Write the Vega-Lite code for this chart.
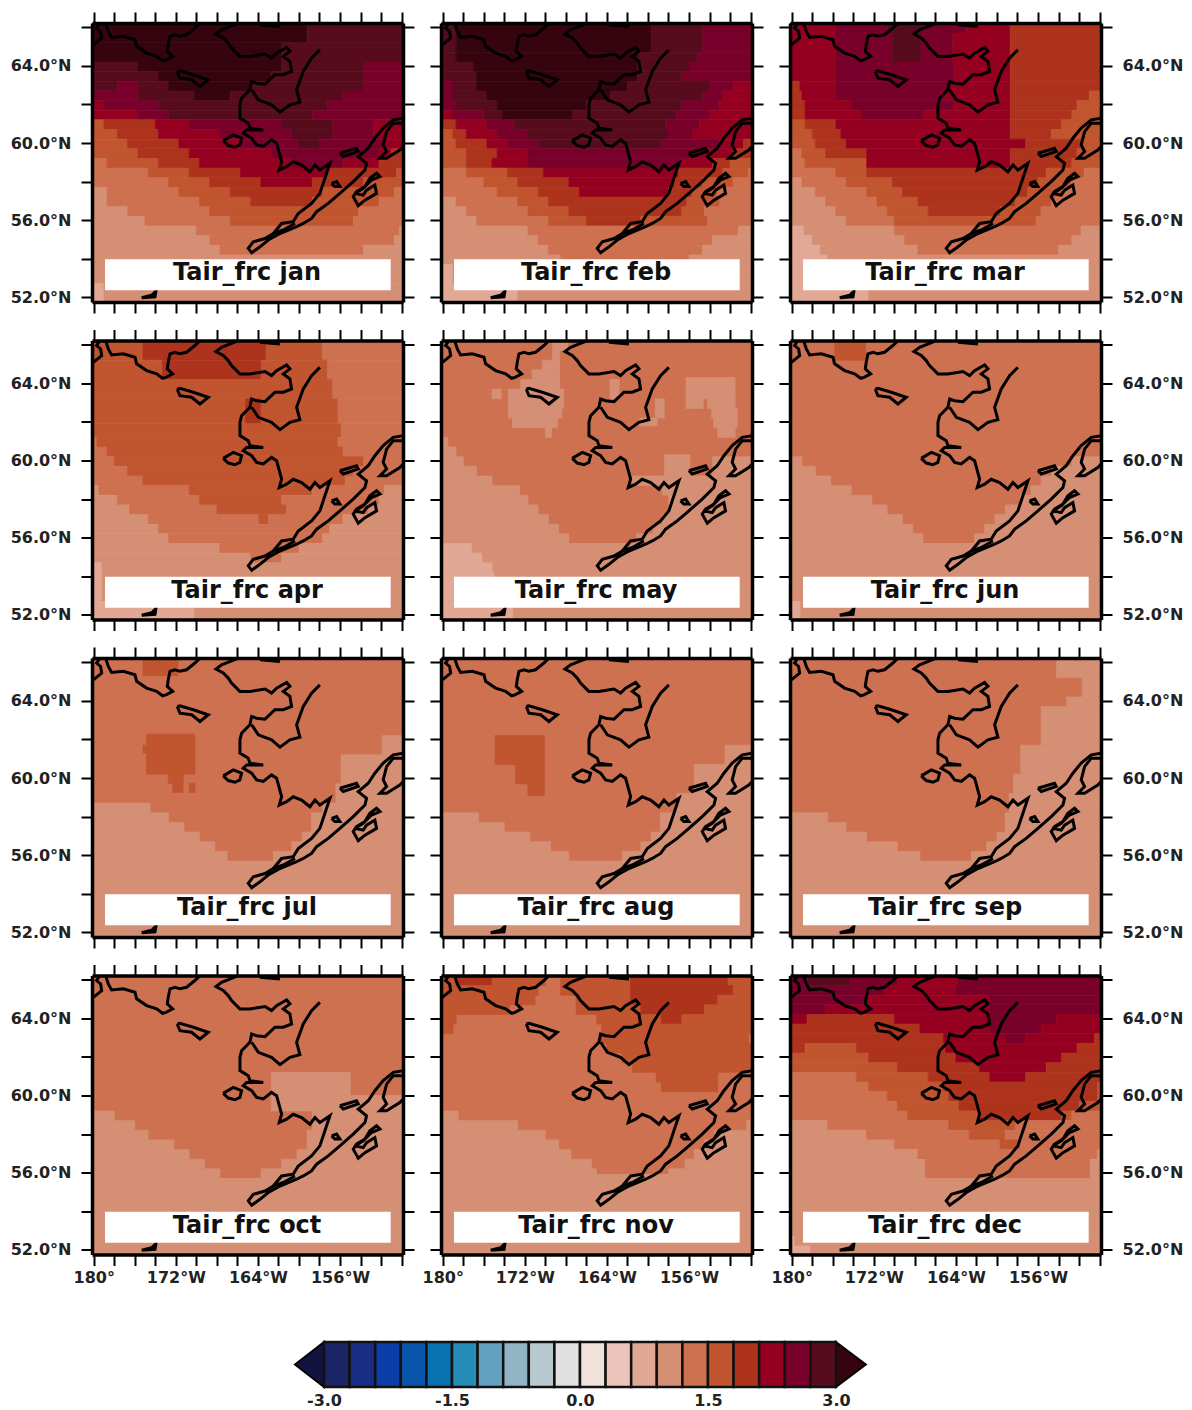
{"$schema":"https://vega.github.io/schema/vega-lite/v6.json","background":"white","padding":{"left":10,"top":11,"right":5,"bottom":0},"bounds":"flush","spacing":1319,
"config":{"range":{"category":["#13133f","#1b2565","#1a2e85","#0a3ea6","#0955ab","#0871b0","#258cb8","#64a0bf","#93b4c4","#b9c9d1","#e0e0e0","#f0e1db","#ecc5ba","#e2a896","#d58f74","#cd7150","#c0552f","#ad331d","#950020","#78002a","#570c1e","#36040f"]},"view":{"stroke":null},"axis":{"grid":false,"domainColor":"#000","domainWidth":3.5,"tickColor":"#000","tickWidth":2,"tickSize":11,"labelFont":"DejaVu Sans","labelFontWeight":"bold","labelFontSize":16,"labelColor":"#222","labelOverlap":false,"labelFlush":false},"axisX":{"tickCount":15,"labelPadding":4,"labelExpr":"datum.value%8==-4?(datum.value==-180?'180°':(-datum.value)+'°W'):''"},"axisY":{"tickCount":7,"labelPadding":10,"labelExpr":"datum.value%4==0?format(datum.value,'.1f')+'°N':''"}},
"datasets":{
"box":[{"x":-178.9,"x2":-151.06,"y":53.98,"y2":52.37}],
"bar":[{"x":-3,"x2":-2.7,"y":0,"y2":1,"v":-2.85},{"x":-2.7,"x2":-2.4,"y":0,"y2":1,"v":-2.55},{"x":-2.4,"x2":-2.1,"y":0,"y2":1,"v":-2.25},{"x":-2.1,"x2":-1.8,"y":0,"y2":1,"v":-1.95},{"x":-1.8,"x2":-1.5,"y":0,"y2":1,"v":-1.65},{"x":-1.5,"x2":-1.2,"y":0,"y2":1,"v":-1.35},{"x":-1.2,"x2":-0.9,"y":0,"y2":1,"v":-1.05},{"x":-0.9,"x2":-0.6,"y":0,"y2":1,"v":-0.75},{"x":-0.6,"x2":-0.3,"y":0,"y2":1,"v":-0.45},{"x":-0.3,"x2":0,"y":0,"y2":1,"v":-0.15},{"x":0,"x2":0.3,"y":0,"y2":1,"v":0.15},{"x":0.3,"x2":0.6,"y":0,"y2":1,"v":0.45},{"x":0.6,"x2":0.9,"y":0,"y2":1,"v":0.75},{"x":0.9,"x2":1.2,"y":0,"y2":1,"v":1.05},{"x":1.2,"x2":1.5,"y":0,"y2":1,"v":1.35},{"x":1.5,"x2":1.8,"y":0,"y2":1,"v":1.65},{"x":1.8,"x2":2.1,"y":0,"y2":1,"v":1.95},{"x":2.1,"x2":2.4,"y":0,"y2":1,"v":2.25},{"x":2.4,"x2":2.7,"y":0,"y2":1,"v":2.55},{"x":2.7,"x2":3,"y":0,"y2":1,"v":2.85}],
"tri":[{"x":-3.34,"y":0.5,"y2":0.5,"v":-3.2},{"x":-3,"y":1,"y2":0,"v":-3.2},{"x":3,"y":1,"y2":0,"v":3.2},{"x":3.35,"y":0.5,"y2":0.5,"v":3.2}],
"coast":[
{"s":"a","o":1,"x":-180.04,"y":65.09},{"s":"a","o":2,"x":-179.23,"y":65.44},{"s":"a","o":3,"x":-179.33,"y":65.78},{"s":"a","o":4,"x":-179.72,"y":65.96},{"s":"a","o":5,"x":-179.46,"y":66.17},
{"s":"b","o":1,"x":-178.81,"y":66.17},{"s":"b","o":2,"x":-178.58,"y":65.78},{"s":"b","o":3,"x":-178.26,"y":65.47},{"s":"b","o":4,"x":-177.12,"y":65.53},{"s":"b","o":5,"x":-175.98,"y":65.35},{"s":"b","o":6,"x":-175.82,"y":65.01},{"s":"b","o":7,"x":-174.85,"y":64.66},{"s":"b","o":8,"x":-173.87,"y":64.49},{"s":"b","o":9,"x":-173.29,"y":64.26},{"s":"b","o":10,"x":-172.96,"y":64.31},{"s":"b","o":11,"x":-172.31,"y":64.49},{"s":"b","o":12,"x":-172.83,"y":64.75},{"s":"b","o":13,"x":-172.74,"y":65.09},{"s":"b","o":14,"x":-172.57,"y":65.53},{"s":"b","o":15,"x":-172.09,"y":65.61},{"s":"b","o":16,"x":-171.6,"y":65.53},{"s":"b","o":17,"x":-170.95,"y":65.61},{"s":"b","o":18,"x":-170.14,"y":65.96},{"s":"b","o":19,"x":-169.72,"y":66.17},
{"s":"c","o":1,"x":-166.08,"y":66.17},{"s":"c","o":2,"x":-167.54,"y":65.87},{"s":"c","o":3,"x":-168.09,"y":65.65},{"s":"c","o":4,"x":-167.38,"y":65.44},{"s":"c","o":5,"x":-166.89,"y":65.18},{"s":"c","o":6,"x":-166.57,"y":64.92},{"s":"c","o":7,"x":-165.76,"y":64.49},{"s":"c","o":8,"x":-164.78,"y":64.49},{"s":"c","o":9,"x":-163.31,"y":64.61},{"s":"c","o":10,"x":-162.67,"y":64.4},{"s":"c","o":11,"x":-162.18,"y":64.66},{"s":"c","o":12,"x":-161.2,"y":64.95},{"s":"c","o":13,"x":-160.88,"y":64.75},{"s":"c","o":14,"x":-161.53,"y":64.49},{"s":"c","o":15,"x":-160.88,"y":64.23},{"s":"c","o":16,"x":-160.72,"y":63.71},{"s":"c","o":17,"x":-161.53,"y":63.54},{"s":"c","o":18,"x":-162.34,"y":63.54},{"s":"c","o":19,"x":-163.31,"y":63.05},{"s":"c","o":20,"x":-164.13,"y":63.1},{"s":"c","o":21,"x":-164.61,"y":63.19},{"s":"c","o":22,"x":-164.78,"y":62.76},{"s":"c","o":23,"x":-165.59,"y":62.32},{"s":"c","o":24,"x":-165.75,"y":61.98},{"s":"c","o":25,"x":-165.75,"y":61.29},{"s":"c","o":26,"x":-164.94,"y":61.03},{"s":"c","o":27,"x":-164.78,"y":60.77},{"s":"c","o":28,"x":-163.48,"y":60.68},{"s":"c","o":29,"x":-164.29,"y":60.68},{"s":"c","o":30,"x":-165.1,"y":60.68},{"s":"c","o":31,"x":-165.43,"y":60.51},{"s":"c","o":32,"x":-164.61,"y":60.25},{"s":"c","o":33,"x":-164.13,"y":59.9},{"s":"c","o":34,"x":-163.48,"y":59.82},{"s":"c","o":35,"x":-162.67,"y":60.16},{"s":"c","o":36,"x":-162.18,"y":59.99},{"s":"c","o":37,"x":-161.69,"y":59.04},{"s":"c","o":38,"x":-161.92,"y":58.6},{"s":"c","o":39,"x":-161.2,"y":58.77},{"s":"c","o":40,"x":-160.56,"y":59.03},{"s":"c","o":41,"x":-159.74,"y":58.86},{"s":"c","o":42,"x":-158.93,"y":58.51},{"s":"c","o":43,"x":-158.44,"y":58.86},{"s":"c","o":44,"x":-157.96,"y":58.6},{"s":"c","o":45,"x":-156.98,"y":58.95},{"s":"c","o":46,"x":-157.47,"y":58.17},{"s":"c","o":47,"x":-157.96,"y":57.39},{"s":"c","o":48,"x":-158.77,"y":56.87},{"s":"c","o":49,"x":-160.07,"y":56.35},{"s":"c","o":50,"x":-160.56,"y":55.92},{"s":"c","o":51,"x":-161.69,"y":55.83},{"s":"c","o":52,"x":-162.5,"y":55.31},{"s":"c","o":53,"x":-163.31,"y":55.05},{"s":"c","o":54,"x":-164.45,"y":54.88},{"s":"c","o":55,"x":-164.94,"y":54.54},{"s":"c","o":56,"x":-164.61,"y":54.31},{"s":"c","o":57,"x":-163.8,"y":54.62},{"s":"c","o":58,"x":-162.99,"y":54.97},{"s":"c","o":59,"x":-161.85,"y":55.31},{"s":"c","o":60,"x":-160.23,"y":55.66},{"s":"c","o":61,"x":-159.58,"y":55.83},{"s":"c","o":62,"x":-158.77,"y":56.09},{"s":"c","o":63,"x":-158.28,"y":56.44},{"s":"c","o":64,"x":-157.15,"y":56.87},{"s":"c","o":65,"x":-156.01,"y":57.39},{"s":"c","o":66,"x":-154.71,"y":58.0},{"s":"c","o":67,"x":-153.57,"y":58.6},{"s":"c","o":68,"x":-153.41,"y":58.95},{"s":"c","o":69,"x":-154.22,"y":59.29},{"s":"c","o":70,"x":-153.25,"y":59.73},{"s":"c","o":71,"x":-152.6,"y":60.25},{"s":"c","o":72,"x":-151.79,"y":60.77},{"s":"c","o":73,"x":-150.81,"y":61.2},{"s":"c","o":74,"x":-149.84,"y":61.29},
{"s":"d","o":1,"x":-149.84,"y":61.03},{"s":"d","o":2,"x":-150.81,"y":61.03},{"s":"d","o":3,"x":-151.46,"y":60.59},{"s":"d","o":4,"x":-151.79,"y":59.9},{"s":"d","o":5,"x":-151.46,"y":59.56},{"s":"d","o":6,"x":-152.11,"y":59.21},{"s":"d","o":7,"x":-151.46,"y":59.21},{"s":"d","o":8,"x":-150.17,"y":59.64},{"s":"d","o":9,"x":-149.84,"y":59.82},
{"s":"e","o":1,"x":-164.61,"y":62.76},{"s":"e","o":2,"x":-163.96,"y":62.24},{"s":"e","o":3,"x":-162.67,"y":61.98},{"s":"e","o":4,"x":-161.85,"y":61.6},{"s":"e","o":5,"x":-160.88,"y":61.98},{"s":"e","o":6,"x":-159.91,"y":62.12},{"s":"e","o":7,"x":-160.23,"y":62.76},{"s":"e","o":8,"x":-159.58,"y":63.71},{"s":"e","o":9,"x":-158.77,"y":64.4},{"s":"e","o":10,"x":-157.96,"y":64.83},
{"s":"f","o":1,"x":-163.8,"y":66.13},{"s":"f","o":2,"x":-161.85,"y":66.04},
{"s":"g","o":1,"x":-156.01,"y":59.47},{"s":"g","o":2,"x":-154.39,"y":59.73},{"s":"g","o":3,"x":-154.22,"y":59.56},{"s":"g","o":4,"x":-155.68,"y":59.3},{"s":"g","o":5,"x":-156.01,"y":59.47},
{"s":"h","o":1,"x":-156.82,"y":57.91},{"s":"h","o":2,"x":-156.33,"y":58.0},{"s":"h","o":3,"x":-156.01,"y":57.74},{"s":"h","o":4,"x":-156.5,"y":57.74},{"s":"h","o":5,"x":-156.82,"y":57.91},
{"s":"i","o":1,"x":-154.55,"y":57.39},{"s":"i","o":2,"x":-153.74,"y":57.65},{"s":"i","o":3,"x":-152.93,"y":58.08},{"s":"i","o":4,"x":-152.11,"y":58.26},{"s":"i","o":5,"x":-152.44,"y":58.43},{"s":"i","o":6,"x":-153.09,"y":58.17},{"s":"i","o":7,"x":-153.57,"y":57.74},{"s":"i","o":8,"x":-154.39,"y":57.48},{"s":"i","o":9,"x":-154.71,"y":57.22},{"s":"i","o":10,"x":-154.22,"y":56.75},{"s":"i","o":11,"x":-153.57,"y":57.04},{"s":"i","o":12,"x":-152.44,"y":57.39},{"s":"i","o":13,"x":-152.6,"y":57.82},{"s":"i","o":14,"x":-153.41,"y":57.56},{"s":"i","o":15,"x":-153.74,"y":57.3},{"s":"i","o":16,"x":-154.55,"y":57.39},
{"s":"j","o":1,"x":-167.38,"y":60.11},{"s":"j","o":2,"x":-166.4,"y":60.42},{"s":"j","o":3,"x":-165.59,"y":60.25},{"s":"j","o":4,"x":-165.76,"y":59.9},{"s":"j","o":5,"x":-166.24,"y":59.78},{"s":"j","o":6,"x":-166.89,"y":59.87},{"s":"j","o":7,"x":-167.38,"y":60.11},
{"s":"k","o":1,"x":-171.86,"y":63.71},{"s":"k","o":2,"x":-171.6,"y":63.74},{"s":"k","o":3,"x":-170.3,"y":63.54},{"s":"k","o":4,"x":-168.84,"y":63.28},{"s":"k","o":5,"x":-169.65,"y":62.93},{"s":"k","o":6,"x":-170.46,"y":63.28},{"s":"k","o":7,"x":-171.6,"y":63.36},{"s":"k","o":8,"x":-171.86,"y":63.71},
{"s":"l","o":1,"x":-175.33,"y":51.98},{"s":"l","o":2,"x":-174.36,"y":52.11},{"s":"l","o":3,"x":-173.94,"y":52.32},{"s":"l","o":4,"x":-174.03,"y":52.03},{"s":"l","o":5,"x":-175.33,"y":51.98},
{"s":"m","o":1,"x":-162.5,"y":55.31},{"s":"m","o":2,"x":-161.53,"y":55.49},{"s":"m","o":3,"x":-160.39,"y":55.83}],
"jan":[
{"x":-180.2,"x2":-159.2,"y":66.2,"y2":65.2,"v":3.1},{"x":-159.2,"x2":-149.8,"y":66.2,"y2":65.2,"v":2.8},
{"x":-180.2,"x2":-161.7,"y":65.2,"y2":64.2,"v":3.1},{"x":-161.7,"x2":-149.8,"y":65.2,"y2":64.2,"v":2.8},
{"x":-180.2,"x2":-175.7,"y":64.2,"y2":63.7,"v":2.8},{"x":-175.7,"x2":-161.7,"y":64.2,"y2":63.7,"v":3.1},{"x":-161.7,"x2":-153.7,"y":64.2,"y2":63.7,"v":2.8},{"x":-153.7,"x2":-149.8,"y":64.2,"y2":63.7,"v":2.5},
{"x":-180.2,"x2":-173.7,"y":63.7,"y2":63.2,"v":2.8},{"x":-173.7,"x2":-162.7,"y":63.7,"y2":63.2,"v":3.1},{"x":-162.7,"x2":-153.7,"y":63.7,"y2":63.2,"v":2.8},{"x":-153.7,"x2":-149.8,"y":63.7,"y2":63.2,"v":2.5},
{"x":-180.2,"x2":-177.7,"y":63.2,"y2":62.7,"v":2.8},{"x":-177.7,"x2":-175.7,"y":63.2,"y2":62.7,"v":2.5},{"x":-175.7,"x2":-172.7,"y":63.2,"y2":62.7,"v":2.8},{"x":-172.7,"x2":-164.7,"y":63.2,"y2":62.7,"v":3.1},{"x":-164.7,"x2":-153.7,"y":63.2,"y2":62.7,"v":2.8},{"x":-153.7,"x2":-149.8,"y":63.2,"y2":62.7,"v":2.5},
{"x":-180.2,"x2":-175.7,"y":62.7,"y2":62.2,"v":2.5},{"x":-175.7,"x2":-170.2,"y":62.7,"y2":62.2,"v":2.8},{"x":-170.2,"x2":-166.7,"y":62.7,"y2":62.2,"v":3.1},{"x":-166.7,"x2":-155.7,"y":62.7,"y2":62.2,"v":2.8},{"x":-155.7,"x2":-149.8,"y":62.7,"y2":62.2,"v":2.5},
{"x":-180.2,"x2":-179,"y":62.2,"y2":61.7,"v":2.2},{"x":-179,"x2":-173.7,"y":62.2,"y2":61.7,"v":2.5},{"x":-173.7,"x2":-157.2,"y":62.2,"y2":61.7,"v":2.8},{"x":-157.2,"x2":-149.8,"y":62.2,"y2":61.7,"v":2.5},
{"x":-180.2,"x2":-175.7,"y":61.7,"y2":61.2,"v":2.2},{"x":-175.7,"x2":-172.7,"y":61.7,"y2":61.2,"v":2.5},{"x":-172.7,"x2":-158.7,"y":61.7,"y2":61.2,"v":2.8},{"x":-158.7,"x2":-149.8,"y":61.7,"y2":61.2,"v":2.5},
{"x":-180.2,"x2":-179,"y":61.2,"y2":60.7,"v":1.6},{"x":-179,"x2":-174,"y":61.2,"y2":60.7,"v":1.9},{"x":-174,"x2":-170.7,"y":61.2,"y2":60.7,"v":2.2},{"x":-170.7,"x2":-161.7,"y":61.2,"y2":60.7,"v":2.5},{"x":-161.7,"x2":-156.7,"y":61.2,"y2":60.7,"v":2.8},{"x":-156.7,"x2":-152.7,"y":61.2,"y2":60.7,"v":2.5},{"x":-152.7,"x2":-149.8,"y":61.2,"y2":60.7,"v":2.2},
{"x":-180.2,"x2":-177.7,"y":60.7,"y2":60.2,"v":1.6},{"x":-177.7,"x2":-173.7,"y":60.7,"y2":60.2,"v":1.9},{"x":-173.7,"x2":-167.7,"y":60.7,"y2":60.2,"v":2.2},{"x":-167.7,"x2":-160.7,"y":60.7,"y2":60.2,"v":2.5},{"x":-160.7,"x2":-156.7,"y":60.7,"y2":60.2,"v":2.8},{"x":-156.7,"x2":-152.7,"y":60.7,"y2":60.2,"v":2.5},{"x":-152.7,"x2":-149.8,"y":60.7,"y2":60.2,"v":2.2},
{"x":-180.2,"x2":-176.7,"y":60.2,"y2":59.7,"v":1.6},{"x":-176.7,"x2":-171.7,"y":60.2,"y2":59.7,"v":1.9},{"x":-171.7,"x2":-165.7,"y":60.2,"y2":59.7,"v":2.2},{"x":-165.7,"x2":-160,"y":60.2,"y2":59.7,"v":2.5},{"x":-160,"x2":-158,"y":60.2,"y2":59.7,"v":2.8},{"x":-158,"x2":-151.7,"y":60.2,"y2":59.7,"v":2.5},{"x":-151.7,"x2":-149.8,"y":60.2,"y2":59.7,"v":2.2},
{"x":-180.2,"x2":-175.7,"y":59.7,"y2":59.2,"v":1.6},{"x":-175.7,"x2":-170.7,"y":59.7,"y2":59.2,"v":1.9},{"x":-170.7,"x2":-162.7,"y":59.7,"y2":59.2,"v":2.2},{"x":-162.7,"x2":-152.2,"y":59.7,"y2":59.2,"v":2.5},{"x":-152.2,"x2":-151,"y":59.7,"y2":59.2,"v":2.2},{"x":-151,"x2":-149.8,"y":59.7,"y2":59.2,"v":1.9},
{"x":-180.2,"x2":-178.7,"y":59.2,"y2":58.7,"v":1.3},{"x":-178.7,"x2":-173.7,"y":59.2,"y2":58.7,"v":1.6},{"x":-173.7,"x2":-169.7,"y":59.2,"y2":58.7,"v":1.9},{"x":-169.7,"x2":-160.7,"y":59.2,"y2":58.7,"v":2.2},{"x":-160.7,"x2":-155.7,"y":59.2,"y2":58.7,"v":2.5},{"x":-155.7,"x2":-152.2,"y":59.2,"y2":58.7,"v":2.2},{"x":-152.2,"x2":-149.8,"y":59.2,"y2":58.7,"v":1.9},
{"x":-180.2,"x2":-174.7,"y":58.7,"y2":58.2,"v":1.3},{"x":-174.7,"x2":-170.7,"y":58.7,"y2":58.2,"v":1.6},{"x":-170.7,"x2":-165.7,"y":58.7,"y2":58.2,"v":1.9},{"x":-165.7,"x2":-157.2,"y":58.7,"y2":58.2,"v":2.2},{"x":-157.2,"x2":-150.5,"y":58.7,"y2":58.2,"v":1.9},{"x":-150.5,"x2":-149.8,"y":58.7,"y2":58.2,"v":1.6},
{"x":-180.2,"x2":-172.7,"y":58.2,"y2":57.7,"v":1.3},{"x":-172.7,"x2":-168.7,"y":58.2,"y2":57.7,"v":1.6},{"x":-168.7,"x2":-163.7,"y":58.2,"y2":57.7,"v":1.9},{"x":-163.7,"x2":-158.7,"y":58.2,"y2":57.7,"v":2.2},{"x":-158.7,"x2":-153.7,"y":58.2,"y2":57.7,"v":1.9},{"x":-153.7,"x2":-149.8,"y":58.2,"y2":57.7,"v":1.6},
{"x":-180.2,"x2":-178.7,"y":57.7,"y2":57.2,"v":1},{"x":-178.7,"x2":-171.7,"y":57.7,"y2":57.2,"v":1.3},{"x":-171.7,"x2":-166.7,"y":57.7,"y2":57.2,"v":1.6},{"x":-166.7,"x2":-157.7,"y":57.7,"y2":57.2,"v":1.9},{"x":-157.7,"x2":-150.7,"y":57.7,"y2":57.2,"v":1.6},{"x":-150.7,"x2":-149.8,"y":57.7,"y2":57.2,"v":1.3},
{"x":-180.2,"x2":-178.7,"y":57.2,"y2":56.7,"v":1},{"x":-178.7,"x2":-169.7,"y":57.2,"y2":56.7,"v":1.3},{"x":-169.7,"x2":-164.7,"y":57.2,"y2":56.7,"v":1.6},{"x":-164.7,"x2":-158.7,"y":57.2,"y2":56.7,"v":1.9},{"x":-158.7,"x2":-152.2,"y":57.2,"y2":56.7,"v":1.6},{"x":-152.2,"x2":-149.8,"y":57.2,"y2":56.7,"v":1.3},
{"x":-180.2,"x2":-176.7,"y":56.7,"y2":56.2,"v":1},{"x":-176.7,"x2":-168.7,"y":56.7,"y2":56.2,"v":1.3},{"x":-168.7,"x2":-154.2,"y":56.7,"y2":56.2,"v":1.6},{"x":-154.2,"x2":-149.8,"y":56.7,"y2":56.2,"v":1.3},
{"x":-180.2,"x2":-175,"y":56.2,"y2":55.7,"v":1},{"x":-175,"x2":-166.7,"y":56.2,"y2":55.7,"v":1.3},{"x":-166.7,"x2":-154.7,"y":56.2,"y2":55.7,"v":1.6},{"x":-154.7,"x2":-149.8,"y":56.2,"y2":55.7,"v":1.3},
{"x":-180.2,"x2":-170,"y":55.7,"y2":55.2,"v":1},{"x":-170,"x2":-150.2,"y":55.7,"y2":55.2,"v":1.3},{"x":-150.2,"x2":-149.8,"y":55.7,"y2":55.2,"v":1},
{"x":-180.2,"x2":-168.7,"y":55.2,"y2":54.7,"v":1},{"x":-168.7,"x2":-150.7,"y":55.2,"y2":54.7,"v":1.3},{"x":-150.7,"x2":-149.8,"y":55.2,"y2":54.7,"v":1},
{"x":-180.2,"x2":-167.7,"y":54.7,"y2":54.2,"v":1},{"x":-167.7,"x2":-153.7,"y":54.7,"y2":54.2,"v":1.3},{"x":-153.7,"x2":-149.8,"y":54.7,"y2":54.2,"v":1},
{"x":-180.2,"x2":-149.8,"y":54.2,"y2":52.7,"v":1},
{"x":-180.2,"x2":-179,"y":52.7,"y2":51.7,"v":0.7},{"x":-179,"x2":-149.8,"y":52.7,"y2":51.7,"v":1}],
"feb":[
{"x":-180.2,"x2":-178.7,"y":66.2,"y2":64.7,"v":2.8},{"x":-178.7,"x2":-159.7,"y":66.2,"y2":64.7,"v":3.1},{"x":-159.7,"x2":-154.7,"y":66.2,"y2":64.7,"v":2.8},{"x":-154.7,"x2":-149.8,"y":66.2,"y2":64.7,"v":2.5},
{"x":-180.2,"x2":-178.7,"y":64.7,"y2":64.2,"v":2.8},{"x":-178.7,"x2":-160.9,"y":64.7,"y2":64.2,"v":3.1},{"x":-160.9,"x2":-155.2,"y":64.7,"y2":64.2,"v":2.8},{"x":-155.2,"x2":-149.8,"y":64.7,"y2":64.2,"v":2.5},
{"x":-180.2,"x2":-177,"y":64.2,"y2":63.7,"v":2.8},{"x":-177,"x2":-161,"y":64.2,"y2":63.7,"v":3.1},{"x":-161,"x2":-156,"y":64.2,"y2":63.7,"v":2.8},{"x":-156,"x2":-149.8,"y":64.2,"y2":63.7,"v":2.5},
{"x":-180.2,"x2":-176.7,"y":63.7,"y2":63.2,"v":2.8},{"x":-176.7,"x2":-161,"y":63.7,"y2":63.2,"v":3.1},{"x":-161,"x2":-156.7,"y":63.7,"y2":63.2,"v":2.8},{"x":-156.7,"x2":-149.8,"y":63.7,"y2":63.2,"v":2.5},
{"x":-180.2,"x2":-179,"y":63.2,"y2":62.7,"v":2.5},{"x":-179,"x2":-176.7,"y":63.2,"y2":62.7,"v":2.8},{"x":-176.7,"x2":-162,"y":63.2,"y2":62.7,"v":3.1},{"x":-162,"x2":-154,"y":63.2,"y2":62.7,"v":2.8},{"x":-154,"x2":-151.7,"y":63.2,"y2":62.7,"v":2.5},{"x":-151.7,"x2":-149.8,"y":63.2,"y2":62.7,"v":2.2},
{"x":-180.2,"x2":-179,"y":62.7,"y2":62.2,"v":2.5},{"x":-179,"x2":-175.7,"y":62.7,"y2":62.2,"v":2.8},{"x":-175.7,"x2":-163.7,"y":62.7,"y2":62.2,"v":3.1},{"x":-163.7,"x2":-154.7,"y":62.7,"y2":62.2,"v":2.8},{"x":-154.7,"x2":-152.7,"y":62.7,"y2":62.2,"v":2.5},{"x":-152.7,"x2":-149.8,"y":62.7,"y2":62.2,"v":2.2},
{"x":-180.2,"x2":-178.7,"y":62.2,"y2":61.7,"v":2.5},{"x":-178.7,"x2":-174.7,"y":62.2,"y2":61.7,"v":2.8},{"x":-174.7,"x2":-166,"y":62.2,"y2":61.7,"v":3.1},{"x":-166,"x2":-156.7,"y":62.2,"y2":61.7,"v":2.8},{"x":-156.7,"x2":-153,"y":62.2,"y2":61.7,"v":2.5},{"x":-153,"x2":-149.8,"y":62.2,"y2":61.7,"v":2.2},
{"x":-180.2,"x2":-179,"y":61.7,"y2":61.2,"v":2.2},{"x":-179,"x2":-176,"y":61.7,"y2":61.2,"v":2.5},{"x":-176,"x2":-174.2,"y":61.7,"y2":61.2,"v":2.8},{"x":-174.2,"x2":-167.4,"y":61.7,"y2":61.2,"v":3.1},{"x":-167.4,"x2":-157.2,"y":61.7,"y2":61.2,"v":2.8},{"x":-157.2,"x2":-154,"y":61.7,"y2":61.2,"v":2.5},{"x":-154,"x2":-149.8,"y":61.7,"y2":61.2,"v":2.2},
{"x":-180.2,"x2":-178.7,"y":61.2,"y2":60.7,"v":1.9},{"x":-178.7,"x2":-175.7,"y":61.2,"y2":60.7,"v":2.2},{"x":-175.7,"x2":-173,"y":61.2,"y2":60.7,"v":2.5},{"x":-173,"x2":-158.3,"y":61.2,"y2":60.7,"v":2.8},{"x":-158.3,"x2":-155,"y":61.2,"y2":60.7,"v":2.5},{"x":-155,"x2":-149.8,"y":61.2,"y2":60.7,"v":2.2},
{"x":-180.2,"x2":-179,"y":60.7,"y2":60.2,"v":1.6},{"x":-179,"x2":-177.7,"y":60.7,"y2":60.2,"v":1.9},{"x":-177.7,"x2":-174.7,"y":60.7,"y2":60.2,"v":2.2},{"x":-174.7,"x2":-171.7,"y":60.7,"y2":60.2,"v":2.5},{"x":-171.7,"x2":-158,"y":60.7,"y2":60.2,"v":2.8},{"x":-158,"x2":-155.7,"y":60.7,"y2":60.2,"v":2.5},{"x":-155.7,"x2":-149.8,"y":60.7,"y2":60.2,"v":2.2},
{"x":-180.2,"x2":-178.7,"y":60.2,"y2":59.7,"v":1.6},{"x":-178.7,"x2":-175.7,"y":60.2,"y2":59.7,"v":1.9},{"x":-175.7,"x2":-173.7,"y":60.2,"y2":59.7,"v":2.2},{"x":-173.7,"x2":-170.7,"y":60.2,"y2":59.7,"v":2.5},{"x":-170.7,"x2":-158.7,"y":60.2,"y2":59.7,"v":2.8},{"x":-158.7,"x2":-153,"y":60.2,"y2":59.7,"v":2.5},{"x":-153,"x2":-150.7,"y":60.2,"y2":59.7,"v":2.2},{"x":-150.7,"x2":-149.8,"y":60.2,"y2":59.7,"v":1.9},
{"x":-180.2,"x2":-177.7,"y":59.7,"y2":59.2,"v":1.6},{"x":-177.7,"x2":-174.7,"y":59.7,"y2":59.2,"v":1.9},{"x":-174.7,"x2":-171.7,"y":59.7,"y2":59.2,"v":2.2},{"x":-171.7,"x2":-155,"y":59.7,"y2":59.2,"v":2.5},{"x":-155,"x2":-151.7,"y":59.7,"y2":59.2,"v":2.2},{"x":-151.7,"x2":-149.8,"y":59.7,"y2":59.2,"v":1.9},
{"x":-180.2,"x2":-177.7,"y":59.2,"y2":58.7,"v":1.6},{"x":-177.7,"x2":-175.2,"y":59.2,"y2":58.7,"v":1.9},{"x":-175.2,"x2":-171.7,"y":59.2,"y2":58.7,"v":2.2},{"x":-171.7,"x2":-156.7,"y":59.2,"y2":58.7,"v":2.5},{"x":-156.7,"x2":-153.7,"y":59.2,"y2":58.7,"v":2.2},{"x":-153.7,"x2":-152,"y":59.2,"y2":58.7,"v":1.9},{"x":-152,"x2":-149.8,"y":59.2,"y2":58.7,"v":1.6},
{"x":-180.2,"x2":-177.7,"y":58.7,"y2":58.2,"v":1.3},{"x":-177.7,"x2":-173.7,"y":58.7,"y2":58.2,"v":1.6},{"x":-173.7,"x2":-170.2,"y":58.7,"y2":58.2,"v":1.9},{"x":-170.2,"x2":-157,"y":58.7,"y2":58.2,"v":2.2},{"x":-157,"x2":-152.7,"y":58.7,"y2":58.2,"v":1.9},{"x":-152.7,"x2":-150.2,"y":58.7,"y2":58.2,"v":1.6},{"x":-150.2,"x2":-149.8,"y":58.7,"y2":58.2,"v":1.3},
{"x":-180.2,"x2":-176,"y":58.2,"y2":57.7,"v":1.3},{"x":-176,"x2":-172.7,"y":58.2,"y2":57.7,"v":1.6},{"x":-172.7,"x2":-167.7,"y":58.2,"y2":57.7,"v":1.9},{"x":-167.7,"x2":-157.4,"y":58.2,"y2":57.7,"v":2.2},{"x":-157.4,"x2":-154.7,"y":58.2,"y2":57.7,"v":1.9},{"x":-154.7,"x2":-151.7,"y":58.2,"y2":57.7,"v":1.6},{"x":-151.7,"x2":-149.8,"y":58.2,"y2":57.7,"v":1.3},
{"x":-180.2,"x2":-174.7,"y":57.7,"y2":57.2,"v":1.3},{"x":-174.7,"x2":-170.7,"y":57.7,"y2":57.2,"v":1.6},{"x":-170.7,"x2":-166.7,"y":57.7,"y2":57.2,"v":1.9},{"x":-166.7,"x2":-158,"y":57.7,"y2":57.2,"v":2.2},{"x":-158,"x2":-155.7,"y":57.7,"y2":57.2,"v":1.9},{"x":-155.7,"x2":-153.2,"y":57.7,"y2":57.2,"v":1.6},{"x":-153.2,"x2":-149.8,"y":57.7,"y2":57.2,"v":1.3},
{"x":-180.2,"x2":-178.7,"y":57.2,"y2":56.7,"v":1},{"x":-178.7,"x2":-172.7,"y":57.2,"y2":56.7,"v":1.3},{"x":-172.7,"x2":-169.7,"y":57.2,"y2":56.7,"v":1.6},{"x":-169.7,"x2":-156.2,"y":57.2,"y2":56.7,"v":1.9},{"x":-156.2,"x2":-153,"y":57.2,"y2":56.7,"v":1.6},{"x":-153,"x2":-149.8,"y":57.2,"y2":56.7,"v":1.3},
{"x":-180.2,"x2":-177.7,"y":56.7,"y2":56.2,"v":1},{"x":-177.7,"x2":-171.7,"y":56.7,"y2":56.2,"v":1.3},{"x":-171.7,"x2":-167.7,"y":56.7,"y2":56.2,"v":1.6},{"x":-167.7,"x2":-156.7,"y":56.7,"y2":56.2,"v":1.9},{"x":-156.7,"x2":-154.5,"y":56.7,"y2":56.2,"v":1.6},{"x":-154.5,"x2":-149.8,"y":56.7,"y2":56.2,"v":1.3},
{"x":-180.2,"x2":-176.7,"y":56.2,"y2":55.7,"v":1},{"x":-176.7,"x2":-169.7,"y":56.2,"y2":55.7,"v":1.3},{"x":-169.7,"x2":-166,"y":56.2,"y2":55.7,"v":1.6},{"x":-166,"x2":-160.7,"y":56.2,"y2":55.7,"v":1.9},{"x":-160.7,"x2":-154.2,"y":56.2,"y2":55.7,"v":1.6},{"x":-154.2,"x2":-149.8,"y":56.2,"y2":55.7,"v":1.3},
{"x":-180.2,"x2":-171.7,"y":55.7,"y2":55.2,"v":1},{"x":-171.7,"x2":-151.2,"y":55.7,"y2":55.2,"v":1.3},{"x":-151.2,"x2":-149.8,"y":55.7,"y2":55.2,"v":1},
{"x":-180.2,"x2":-170.7,"y":55.2,"y2":54.7,"v":1},{"x":-170.7,"x2":-153.7,"y":55.2,"y2":54.7,"v":1.3},{"x":-153.7,"x2":-149.8,"y":55.2,"y2":54.7,"v":1},
{"x":-180.2,"x2":-169.7,"y":54.7,"y2":54.2,"v":1},{"x":-169.7,"x2":-154.7,"y":54.7,"y2":54.2,"v":1.3},{"x":-154.7,"x2":-149.8,"y":54.7,"y2":54.2,"v":1},
{"x":-180.2,"x2":-168.5,"y":54.2,"y2":53.7,"v":1},{"x":-168.5,"x2":-156,"y":54.2,"y2":53.7,"v":1.3},{"x":-156,"x2":-149.8,"y":54.2,"y2":53.7,"v":1},
{"x":-180.2,"x2":-179,"y":53.7,"y2":52.7,"v":0.7},{"x":-179,"x2":-149.8,"y":53.7,"y2":52.7,"v":1},
{"x":-180.2,"x2":-172.7,"y":52.7,"y2":51.7,"v":0.7},{"x":-172.7,"x2":-149.8,"y":52.7,"y2":51.7,"v":1}],
"mar":[
{"x":-180.2,"x2":-175.7,"y":66.2,"y2":65.7,"v":2.2},{"x":-175.7,"x2":-170.7,"y":66.2,"y2":65.7,"v":2.5},{"x":-170.7,"x2":-167.4,"y":66.2,"y2":65.7,"v":2.8},{"x":-167.4,"x2":-163,"y":66.2,"y2":65.7,"v":2.5},{"x":-163,"x2":-158.7,"y":66.2,"y2":65.7,"v":2.2},{"x":-158.7,"x2":-149.8,"y":66.2,"y2":65.7,"v":1.9},
{"x":-180.2,"x2":-175.7,"y":65.7,"y2":64.2,"v":2.2},{"x":-175.7,"x2":-170.2,"y":65.7,"y2":64.2,"v":2.5},{"x":-170.2,"x2":-167.4,"y":65.7,"y2":64.2,"v":2.8},{"x":-167.4,"x2":-164.3,"y":65.7,"y2":64.2,"v":2.5},{"x":-164.3,"x2":-158.7,"y":65.7,"y2":64.2,"v":2.2},{"x":-158.7,"x2":-149.8,"y":65.7,"y2":64.2,"v":1.9},
{"x":-180.2,"x2":-175.7,"y":64.2,"y2":63.2,"v":2.2},{"x":-175.7,"x2":-164.2,"y":64.2,"y2":63.2,"v":2.5},{"x":-164.2,"x2":-158.7,"y":64.2,"y2":63.2,"v":2.2},{"x":-158.7,"x2":-149.8,"y":64.2,"y2":63.2,"v":1.9},
{"x":-180.2,"x2":-179.2,"y":63.2,"y2":62.7,"v":1.9},{"x":-179.2,"x2":-175.7,"y":63.2,"y2":62.7,"v":2.2},{"x":-175.7,"x2":-164.7,"y":63.2,"y2":62.7,"v":2.5},{"x":-164.7,"x2":-158.7,"y":63.2,"y2":62.7,"v":2.2},{"x":-158.7,"x2":-149.8,"y":63.2,"y2":62.7,"v":1.9},
{"x":-180.2,"x2":-179,"y":62.7,"y2":62.2,"v":1.9},{"x":-179,"x2":-175.7,"y":62.7,"y2":62.2,"v":2.2},{"x":-175.7,"x2":-165.5,"y":62.7,"y2":62.2,"v":2.5},{"x":-165.5,"x2":-158.7,"y":62.7,"y2":62.2,"v":2.2},{"x":-158.7,"x2":-151,"y":62.7,"y2":62.2,"v":1.9},{"x":-151,"x2":-149.8,"y":62.7,"y2":62.2,"v":1.6},
{"x":-180.2,"x2":-178.7,"y":62.2,"y2":61.7,"v":1.9},{"x":-178.7,"x2":-174.2,"y":62.2,"y2":61.7,"v":2.2},{"x":-174.2,"x2":-164.2,"y":62.2,"y2":61.7,"v":2.5},{"x":-164.2,"x2":-158.7,"y":62.2,"y2":61.7,"v":2.2},{"x":-158.7,"x2":-152.2,"y":62.2,"y2":61.7,"v":1.9},{"x":-152.2,"x2":-149.8,"y":62.2,"y2":61.7,"v":1.6},
{"x":-180.2,"x2":-178.7,"y":61.7,"y2":61.2,"v":1.9},{"x":-178.7,"x2":-173.2,"y":61.7,"y2":61.2,"v":2.2},{"x":-173.2,"x2":-167.2,"y":61.7,"y2":61.2,"v":2.5},{"x":-167.2,"x2":-158.7,"y":61.7,"y2":61.2,"v":2.2},{"x":-158.7,"x2":-152.7,"y":61.7,"y2":61.2,"v":1.9},{"x":-152.7,"x2":-149.8,"y":61.7,"y2":61.2,"v":1.6},
{"x":-180.2,"x2":-178.7,"y":61.2,"y2":60.7,"v":1.6},{"x":-178.7,"x2":-175.7,"y":61.2,"y2":60.7,"v":1.9},{"x":-175.7,"x2":-158.7,"y":61.2,"y2":60.7,"v":2.2},{"x":-158.7,"x2":-153.7,"y":61.2,"y2":60.7,"v":1.9},{"x":-153.7,"x2":-149.8,"y":61.2,"y2":60.7,"v":1.6},
{"x":-180.2,"x2":-178,"y":60.7,"y2":60.2,"v":1.6},{"x":-178,"x2":-175.2,"y":60.7,"y2":60.2,"v":1.9},{"x":-175.2,"x2":-158.7,"y":60.7,"y2":60.2,"v":2.2},{"x":-158.7,"x2":-154.7,"y":60.7,"y2":60.2,"v":1.9},{"x":-154.7,"x2":-149.8,"y":60.7,"y2":60.2,"v":1.6},
{"x":-180.2,"x2":-177.7,"y":60.2,"y2":59.7,"v":1.6},{"x":-177.7,"x2":-174.7,"y":60.2,"y2":59.7,"v":1.9},{"x":-174.7,"x2":-157.2,"y":60.2,"y2":59.7,"v":2.2},{"x":-157.2,"x2":-151.7,"y":60.2,"y2":59.7,"v":1.9},{"x":-151.7,"x2":-149.8,"y":60.2,"y2":59.7,"v":1.6},
{"x":-180.2,"x2":-179,"y":59.7,"y2":59.2,"v":1.3},{"x":-179,"x2":-176.7,"y":59.7,"y2":59.2,"v":1.6},{"x":-176.7,"x2":-172.7,"y":59.7,"y2":59.2,"v":1.9},{"x":-172.7,"x2":-158.7,"y":59.7,"y2":59.2,"v":2.2},{"x":-158.7,"x2":-152.2,"y":59.7,"y2":59.2,"v":1.9},{"x":-152.2,"x2":-149.8,"y":59.7,"y2":59.2,"v":1.6},
{"x":-180.2,"x2":-178.7,"y":59.2,"y2":58.7,"v":1.3},{"x":-178.7,"x2":-172.7,"y":59.2,"y2":58.7,"v":1.6},{"x":-172.7,"x2":-158.7,"y":59.2,"y2":58.7,"v":2.2},{"x":-158.7,"x2":-152.7,"y":59.2,"y2":58.7,"v":1.9},{"x":-152.7,"x2":-149.8,"y":59.2,"y2":58.7,"v":1.6},
{"x":-180.2,"x2":-175.7,"y":58.7,"y2":58.2,"v":1.3},{"x":-175.7,"x2":-172.7,"y":58.7,"y2":58.2,"v":1.6},{"x":-172.7,"x2":-155.2,"y":58.7,"y2":58.2,"v":1.9},{"x":-155.2,"x2":-151.5,"y":58.7,"y2":58.2,"v":1.6},{"x":-151.5,"x2":-149.8,"y":58.7,"y2":58.2,"v":1.3},
{"x":-180.2,"x2":-179,"y":58.2,"y2":57.7,"v":1},{"x":-179,"x2":-174.7,"y":58.2,"y2":57.7,"v":1.3},{"x":-174.7,"x2":-170.2,"y":58.2,"y2":57.7,"v":1.6},{"x":-170.2,"x2":-156,"y":58.2,"y2":57.7,"v":1.9},{"x":-156,"x2":-152.7,"y":58.2,"y2":57.7,"v":1.6},{"x":-152.7,"x2":-149.8,"y":58.2,"y2":57.7,"v":1.3},
{"x":-180.2,"x2":-177.7,"y":57.7,"y2":57.2,"v":1},{"x":-177.7,"x2":-172.7,"y":57.7,"y2":57.2,"v":1.3},{"x":-172.7,"x2":-169.2,"y":57.7,"y2":57.2,"v":1.6},{"x":-169.2,"x2":-157,"y":57.7,"y2":57.2,"v":1.9},{"x":-157,"x2":-153.7,"y":57.7,"y2":57.2,"v":1.6},{"x":-153.7,"x2":-149.8,"y":57.7,"y2":57.2,"v":1.3},
{"x":-180.2,"x2":-176.7,"y":57.2,"y2":56.7,"v":1},{"x":-176.7,"x2":-171.7,"y":57.2,"y2":56.7,"v":1.3},{"x":-171.7,"x2":-167.7,"y":57.2,"y2":56.7,"v":1.6},{"x":-167.7,"x2":-158.2,"y":57.2,"y2":56.7,"v":1.9},{"x":-158.2,"x2":-154.7,"y":57.2,"y2":56.7,"v":1.6},{"x":-154.7,"x2":-149.8,"y":57.2,"y2":56.7,"v":1.3},
{"x":-180.2,"x2":-175.7,"y":56.7,"y2":56.2,"v":1},{"x":-175.7,"x2":-170.7,"y":56.7,"y2":56.2,"v":1.3},{"x":-170.7,"x2":-166.7,"y":56.7,"y2":56.2,"v":1.6},{"x":-166.7,"x2":-159.7,"y":56.7,"y2":56.2,"v":1.9},{"x":-159.7,"x2":-155.7,"y":56.7,"y2":56.2,"v":1.6},{"x":-155.7,"x2":-149.8,"y":56.7,"y2":56.2,"v":1.3},
{"x":-180.2,"x2":-174.7,"y":56.2,"y2":55.7,"v":1},{"x":-174.7,"x2":-170,"y":56.2,"y2":55.7,"v":1.3},{"x":-170,"x2":-156.2,"y":56.2,"y2":55.7,"v":1.6},{"x":-156.2,"x2":-149.8,"y":56.2,"y2":55.7,"v":1.3},
{"x":-180.2,"x2":-178.8,"y":55.7,"y2":55.2,"v":0.7},{"x":-178.8,"x2":-170,"y":55.7,"y2":55.2,"v":1},{"x":-170,"x2":-151.8,"y":55.7,"y2":55.2,"v":1.3},{"x":-151.8,"x2":-149.8,"y":55.7,"y2":55.2,"v":1},
{"x":-180.2,"x2":-178,"y":55.2,"y2":54.7,"v":0.7},{"x":-178,"x2":-169,"y":55.2,"y2":54.7,"v":1},{"x":-169,"x2":-152.7,"y":55.2,"y2":54.7,"v":1.3},{"x":-152.7,"x2":-149.8,"y":55.2,"y2":54.7,"v":1},
{"x":-180.2,"x2":-177.2,"y":54.7,"y2":54.2,"v":0.7},{"x":-177.2,"x2":-167.7,"y":54.7,"y2":54.2,"v":1},{"x":-167.7,"x2":-154,"y":54.7,"y2":54.2,"v":1.3},{"x":-154,"x2":-149.8,"y":54.7,"y2":54.2,"v":1},
{"x":-180.2,"x2":-176.5,"y":54.2,"y2":52.7,"v":0.7},{"x":-176.5,"x2":-149.8,"y":54.2,"y2":52.7,"v":1},
{"x":-180.2,"x2":-172.5,"y":52.7,"y2":51.7,"v":0.7},{"x":-172.5,"x2":-149.8,"y":52.7,"y2":51.7,"v":1}],
"apr":[
{"x":-180.2,"x2":-175.2,"y":66.2,"y2":65.2,"v":1.6},{"x":-175.2,"x2":-163.2,"y":66.2,"y2":65.2,"v":1.9},{"x":-163.2,"x2":-157.7,"y":66.2,"y2":65.2,"v":1.6},{"x":-157.7,"x2":-149.8,"y":66.2,"y2":65.2,"v":1.3},
{"x":-180.2,"x2":-173.3,"y":65.2,"y2":64.2,"v":1.6},{"x":-173.3,"x2":-163.7,"y":65.2,"y2":64.2,"v":1.9},{"x":-163.7,"x2":-157.2,"y":65.2,"y2":64.2,"v":1.6},{"x":-157.2,"x2":-149.8,"y":65.2,"y2":64.2,"v":1.3},
{"x":-180.2,"x2":-156.7,"y":64.2,"y2":63.2,"v":1.6},{"x":-156.7,"x2":-149.8,"y":64.2,"y2":63.2,"v":1.3},
{"x":-180.2,"x2":-165.2,"y":63.2,"y2":61.9,"v":1.6},{"x":-165.2,"x2":-163.7,"y":63.2,"y2":61.9,"v":1.9},{"x":-163.7,"x2":-156.2,"y":63.2,"y2":61.9,"v":1.6},{"x":-156.2,"x2":-149.8,"y":63.2,"y2":61.9,"v":1.3},
{"x":-180.2,"x2":-155.9,"y":61.9,"y2":61.2,"v":1.6},{"x":-155.9,"x2":-149.8,"y":61.9,"y2":61.2,"v":1.3},
{"x":-180.2,"x2":-179.7,"y":61.2,"y2":60.7,"v":1.3},{"x":-179.7,"x2":-156.2,"y":61.2,"y2":60.7,"v":1.6},{"x":-156.2,"x2":-149.8,"y":61.2,"y2":60.7,"v":1.3},
{"x":-180.2,"x2":-178.7,"y":60.7,"y2":60.2,"v":1.3},{"x":-178.7,"x2":-155.7,"y":60.7,"y2":60.2,"v":1.6},{"x":-155.7,"x2":-149.8,"y":60.7,"y2":60.2,"v":1.3},
{"x":-180.2,"x2":-178,"y":60.2,"y2":59.7,"v":1.3},{"x":-178,"x2":-153.7,"y":60.2,"y2":59.7,"v":1.6},{"x":-153.7,"x2":-149.8,"y":60.2,"y2":59.7,"v":1.3},
{"x":-180.2,"x2":-176.7,"y":59.7,"y2":59.2,"v":1.3},{"x":-176.7,"x2":-154.7,"y":59.7,"y2":59.2,"v":1.6},{"x":-154.7,"x2":-149.8,"y":59.7,"y2":59.2,"v":1.3},
{"x":-180.2,"x2":-180,"y":59.2,"y2":58.7,"v":1},{"x":-180,"x2":-175.2,"y":59.2,"y2":58.7,"v":1.3},{"x":-175.2,"x2":-155.5,"y":59.2,"y2":58.7,"v":1.6},{"x":-155.5,"x2":-149.8,"y":59.2,"y2":58.7,"v":1.3},
{"x":-180.2,"x2":-179.5,"y":58.7,"y2":58.2,"v":1},{"x":-179.5,"x2":-170.7,"y":58.7,"y2":58.2,"v":1.3},{"x":-170.7,"x2":-158.7,"y":58.7,"y2":58.2,"v":1.6},{"x":-158.7,"x2":-151.7,"y":58.7,"y2":58.2,"v":1.3},{"x":-151.7,"x2":-149.8,"y":58.7,"y2":58.2,"v":1},
{"x":-180.2,"x2":-177.7,"y":58.2,"y2":57.7,"v":1},{"x":-177.7,"x2":-169.7,"y":58.2,"y2":57.7,"v":1.3},{"x":-169.7,"x2":-161.7,"y":58.2,"y2":57.7,"v":1.6},{"x":-161.7,"x2":-152.2,"y":58.2,"y2":57.7,"v":1.3},{"x":-152.2,"x2":-149.8,"y":58.2,"y2":57.7,"v":1},
{"x":-180.2,"x2":-176.5,"y":57.7,"y2":57.2,"v":1},{"x":-176.5,"x2":-168,"y":57.7,"y2":57.2,"v":1.3},{"x":-168,"x2":-161.2,"y":57.7,"y2":57.2,"v":1.6},{"x":-161.2,"x2":-153.2,"y":57.7,"y2":57.2,"v":1.3},{"x":-153.2,"x2":-149.8,"y":57.7,"y2":57.2,"v":1},
{"x":-180.2,"x2":-174.7,"y":57.2,"y2":56.7,"v":1},{"x":-174.7,"x2":-163.9,"y":57.2,"y2":56.7,"v":1.3},{"x":-163.9,"x2":-163,"y":57.2,"y2":56.7,"v":1.6},{"x":-163,"x2":-155.7,"y":57.2,"y2":56.7,"v":1.3},{"x":-155.7,"x2":-149.8,"y":57.2,"y2":56.7,"v":1},
{"x":-180.2,"x2":-173.7,"y":56.7,"y2":56.2,"v":1},{"x":-173.7,"x2":-157,"y":56.7,"y2":56.2,"v":1.3},{"x":-157,"x2":-149.8,"y":56.7,"y2":56.2,"v":1},
{"x":-180.2,"x2":-172.7,"y":56.2,"y2":55.7,"v":1},{"x":-172.7,"x2":-157.7,"y":56.2,"y2":55.7,"v":1.3},{"x":-157.7,"x2":-149.8,"y":56.2,"y2":55.7,"v":1},
{"x":-180.2,"x2":-167.7,"y":55.7,"y2":55.2,"v":1},{"x":-167.7,"x2":-160,"y":55.7,"y2":55.2,"v":1.3},{"x":-160,"x2":-149.8,"y":55.7,"y2":55.2,"v":1},
{"x":-180.2,"x2":-164.7,"y":55.2,"y2":54.7,"v":1},{"x":-164.7,"x2":-161.7,"y":55.2,"y2":54.7,"v":1.3},{"x":-161.7,"x2":-149.8,"y":55.2,"y2":54.7,"v":1},
{"x":-180.2,"x2":-179.2,"y":54.7,"y2":52.7,"v":0.7},{"x":-179.2,"x2":-149.8,"y":54.7,"y2":52.7,"v":1},
{"x":-180.2,"x2":-170.2,"y":52.7,"y2":51.7,"v":0.7},{"x":-170.2,"x2":-149.8,"y":52.7,"y2":51.7,"v":1}],
"may":[
{"x":-180.2,"x2":-149.8,"y":66.2,"y2":55.7,"v":1.3},{"x":-180.2,"x2":-149.8,"y":55.7,"y2":51.7,"v":1},
{"x":-169.3,"x2":-167.8,"y":66.2,"y2":65.7,"v":1},{"x":-169.3,"x2":-168.6,"y":65.7,"y2":65.2,"v":1},{"x":-170.3,"x2":-168.6,"y":65.2,"y2":64.7,"v":1},{"x":-171.3,"x2":-168.6,"y":64.7,"y2":64.2,"v":1},{"x":-172.4,"x2":-168.6,"y":64.2,"y2":63.7,"v":1},{"x":-173.6,"x2":-168.2,"y":63.7,"y2":62.7,"v":1},{"x":-173.6,"x2":-168.4,"y":62.7,"y2":62.2,"v":1},{"x":-173.2,"x2":-168.8,"y":62.2,"y2":61.7,"v":1},{"x":-170,"x2":-169.4,"y":61.7,"y2":61.2,"v":1},{"x":-175.2,"x2":-174.3,"y":63.7,"y2":63.2,"v":1},
{"x":-163.7,"x2":-162.8,"y":64.2,"y2":63.2,"v":1},{"x":-159.3,"x2":-158.4,"y":63.2,"y2":62.2,"v":1},{"x":-160.8,"x2":-159.1,"y":62.2,"y2":61.8,"v":1},
{"x":-156.3,"x2":-151.5,"y":64.3,"y2":63.2,"v":1},{"x":-156.3,"x2":-154.6,"y":63.2,"y2":62.7,"v":1},{"x":-154.2,"x2":-151.5,"y":63.2,"y2":62.7,"v":1},{"x":-153.8,"x2":-151.3,"y":62.7,"y2":62.2,"v":1},{"x":-153.6,"x2":-151.3,"y":62.2,"y2":61.7,"v":1},{"x":-153.2,"x2":-151.5,"y":61.7,"y2":61.2,"v":1},
{"x":-158.4,"x2":-155.9,"y":60.3,"y2":59.2,"v":1},{"x":-161.5,"x2":-155.9,"y":59.2,"y2":58.7,"v":1},{"x":-153.7,"x2":-149.8,"y":60.2,"y2":59.2,"v":1},{"x":-158.6,"x2":-149.8,"y":58.7,"y2":58.2,"v":1},{"x":-155.9,"x2":-153.7,"y":59.2,"y2":58.7,"v":1},{"x":-153.7,"x2":-149.8,"y":59.2,"y2":58.7,"v":1},{"x":-158,"x2":-149.8,"y":58.2,"y2":57.2,"v":1},{"x":-158.6,"x2":-149.8,"y":57.2,"y2":56.7,"v":1},{"x":-159.5,"x2":-149.8,"y":56.7,"y2":56.2,"v":1},{"x":-161.1,"x2":-149.8,"y":56.2,"y2":55.7,"v":1},
{"x":-180.2,"x2":-179.5,"y":61.2,"y2":60.7,"v":1},{"x":-180.2,"x2":-178.7,"y":60.7,"y2":60.2,"v":1},{"x":-180.2,"x2":-178,"y":60.2,"y2":59.7,"v":1},{"x":-180.2,"x2":-176.7,"y":59.7,"y2":59.2,"v":1},{"x":-180.2,"x2":-175.2,"y":59.2,"y2":58.7,"v":1},{"x":-180.2,"x2":-172.5,"y":58.7,"y2":58.2,"v":1},{"x":-180.2,"x2":-171.7,"y":58.2,"y2":57.7,"v":1},{"x":-180.2,"x2":-170.7,"y":57.7,"y2":57.2,"v":1},{"x":-180.2,"x2":-169.7,"y":57.2,"y2":56.7,"v":1},{"x":-180.2,"x2":-168.7,"y":56.7,"y2":56.2,"v":1},{"x":-180.2,"x2":-167.7,"y":56.2,"y2":55.7,"v":1},
{"x":-180.2,"x2":-177.2,"y":55.7,"y2":55.2,"v":0.7},{"x":-180.2,"x2":-176.2,"y":55.2,"y2":54.7,"v":0.7},{"x":-180.2,"x2":-175.2,"y":54.7,"y2":54.2,"v":0.7},{"x":-180.2,"x2":-175,"y":54.2,"y2":52.7,"v":0.7},{"x":-180.2,"x2":-173.2,"y":52.7,"y2":51.7,"v":0.7}],
"jun":[
{"x":-180.2,"x2":-149.8,"y":66.2,"y2":55.7,"v":1.3},{"x":-180.2,"x2":-149.8,"y":55.7,"y2":51.7,"v":1},
{"x":-175.8,"x2":-172.8,"y":66.2,"y2":65.2,"v":1.6},
{"x":-180.2,"x2":-179,"y":60.2,"y2":59.7,"v":1},{"x":-180.2,"x2":-177.7,"y":59.7,"y2":59.2,"v":1},{"x":-180.2,"x2":-176.2,"y":59.2,"y2":58.7,"v":1},{"x":-180.2,"x2":-174.2,"y":58.7,"y2":58.2,"v":1},{"x":-180.2,"x2":-172.2,"y":58.2,"y2":57.7,"v":1},{"x":-180.2,"x2":-170.7,"y":57.7,"y2":57.2,"v":1},{"x":-180.2,"x2":-169.2,"y":57.2,"y2":56.7,"v":1},{"x":-180.2,"x2":-168.2,"y":56.7,"y2":56.2,"v":1},{"x":-180.2,"x2":-167.2,"y":56.2,"y2":55.7,"v":1},
{"x":-152.7,"x2":-149.8,"y":60.2,"y2":59.7,"v":1},{"x":-154.7,"x2":-149.8,"y":59.7,"y2":59.2,"v":1},{"x":-155.7,"x2":-149.8,"y":59.2,"y2":58.7,"v":1},{"x":-156.7,"x2":-149.8,"y":58.7,"y2":58.2,"v":1},{"x":-157.7,"x2":-149.8,"y":58.2,"y2":57.7,"v":1},{"x":-159.2,"x2":-149.8,"y":57.7,"y2":57.2,"v":1},{"x":-160.2,"x2":-149.8,"y":57.2,"y2":56.7,"v":1},{"x":-161.2,"x2":-149.8,"y":56.7,"y2":56.2,"v":1},{"x":-162.2,"x2":-149.8,"y":56.2,"y2":55.7,"v":1},
{"x":-180.2,"x2":-179.2,"y":52.7,"y2":51.7,"v":0.7}],
"jul":[
{"x":-180.2,"x2":-149.8,"y":66.2,"y2":55.7,"v":1.3},{"x":-180.2,"x2":-149.8,"y":55.7,"y2":51.7,"v":1},
{"x":-175.2,"x2":-171.8,"y":66.2,"y2":65.3,"v":1.6},{"x":-174.85,"x2":-170.14,"y":62.27,"y2":60.2,"v":1.6},{"x":-175.2,"x2":-174.85,"y":61.7,"y2":61.3,"v":1.6},{"x":-172.74,"x2":-171.28,"y":60.2,"y2":59.73,"v":1.6},{"x":-172.3,"x2":-171.3,"y":59.73,"y2":59.25,"v":1.6},{"x":-170.7,"x2":-170.14,"y":59.73,"y2":59.25,"v":1.6},
{"x":-180.2,"x2":-174.5,"y":58.7,"y2":58.2,"v":1},{"x":-180.2,"x2":-172.7,"y":58.2,"y2":57.7,"v":1},{"x":-180.2,"x2":-171.2,"y":57.7,"y2":57.2,"v":1},{"x":-180.2,"x2":-169.7,"y":57.2,"y2":56.7,"v":1},{"x":-180.2,"x2":-168.2,"y":56.7,"y2":56.2,"v":1},{"x":-180.2,"x2":-167,"y":56.2,"y2":55.7,"v":1},
{"x":-151.9,"x2":-149.8,"y":62.2,"y2":61.2,"v":1},{"x":-155.9,"x2":-149.8,"y":61.2,"y2":59.7,"v":1},{"x":-156.4,"x2":-149.8,"y":59.7,"y2":58.7,"v":1},{"x":-157.7,"x2":-149.8,"y":58.7,"y2":58.2,"v":1},{"x":-158.8,"x2":-149.8,"y":58.2,"y2":57.2,"v":1},{"x":-159.7,"x2":-149.8,"y":57.2,"y2":56.7,"v":1},{"x":-160.7,"x2":-149.8,"y":56.7,"y2":56.2,"v":1},{"x":-162.5,"x2":-149.8,"y":56.2,"y2":55.7,"v":1}],
"aug":[
{"x":-180.2,"x2":-149.8,"y":66.2,"y2":55.7,"v":1.3},{"x":-180.2,"x2":-149.8,"y":55.7,"y2":51.7,"v":1},
{"x":-174.9,"x2":-170.1,"y":62.2,"y2":60.7,"v":1.6},{"x":-172.9,"x2":-170.1,"y":60.7,"y2":59.7,"v":1.6},{"x":-171.7,"x2":-170.1,"y":59.7,"y2":59.1,"v":1.6},
{"x":-180.2,"x2":-176.5,"y":58.2,"y2":57.7,"v":1},{"x":-180.2,"x2":-174,"y":57.7,"y2":57.2,"v":1},{"x":-180.2,"x2":-171.5,"y":57.2,"y2":56.7,"v":1},{"x":-180.2,"x2":-169.5,"y":56.7,"y2":56.2,"v":1},{"x":-180.2,"x2":-167.7,"y":56.2,"y2":55.7,"v":1},
{"x":-152.5,"x2":-149.8,"y":61.7,"y2":60.7,"v":1},{"x":-155.5,"x2":-149.8,"y":60.7,"y2":59.2,"v":1},{"x":-157.2,"x2":-149.8,"y":59.2,"y2":58.2,"v":1},{"x":-158.8,"x2":-149.8,"y":58.2,"y2":57.2,"v":1},{"x":-159.7,"x2":-149.8,"y":57.2,"y2":56.7,"v":1},{"x":-160.7,"x2":-149.8,"y":56.7,"y2":56.2,"v":1},{"x":-162.5,"x2":-149.8,"y":56.2,"y2":55.7,"v":1}],
"sep":[
{"x":-180.2,"x2":-149.8,"y":66.2,"y2":55.7,"v":1.3},{"x":-180.2,"x2":-149.8,"y":55.7,"y2":51.7,"v":1},
{"x":-180.2,"x2":-176.5,"y":58.2,"y2":57.7,"v":1},{"x":-180.2,"x2":-174.7,"y":57.7,"y2":57.2,"v":1},{"x":-180.2,"x2":-172.7,"y":57.2,"y2":56.7,"v":1},{"x":-180.2,"x2":-169.7,"y":56.7,"y2":56.2,"v":1},{"x":-180.2,"x2":-167.5,"y":56.2,"y2":55.7,"v":1},
{"x":-154.2,"x2":-149.8,"y":66.2,"y2":65.2,"v":1},{"x":-151.7,"x2":-149.8,"y":65.2,"y2":64.2,"v":1},{"x":-153.2,"x2":-149.8,"y":64.2,"y2":63.7,"v":1},{"x":-155.7,"x2":-149.8,"y":63.7,"y2":61.7,"v":1},{"x":-157.7,"x2":-149.8,"y":61.7,"y2":60.2,"v":1},{"x":-158.4,"x2":-149.8,"y":60.2,"y2":59.2,"v":1},{"x":-158.8,"x2":-149.8,"y":59.2,"y2":58.2,"v":1},{"x":-159.2,"x2":-149.8,"y":58.2,"y2":57.2,"v":1},{"x":-160,"x2":-149.8,"y":57.2,"y2":56.7,"v":1},{"x":-161,"x2":-149.8,"y":56.7,"y2":56.2,"v":1},{"x":-162.5,"x2":-149.8,"y":56.2,"y2":55.7,"v":1}],
"oct":[
{"x":-180.2,"x2":-149.8,"y":66.2,"y2":55.7,"v":1.3},{"x":-180.2,"x2":-149.8,"y":55.7,"y2":51.7,"v":1},
{"x":-162.7,"x2":-155,"y":61.2,"y2":60,"v":1},{"x":-162.7,"x2":-149.8,"y":60,"y2":59.2,"v":1},{"x":-158.7,"x2":-149.8,"y":59.2,"y2":58.2,"v":1},{"x":-159.2,"x2":-149.8,"y":58.2,"y2":57.2,"v":1},{"x":-160.2,"x2":-149.8,"y":57.2,"y2":56.7,"v":1},{"x":-161.7,"x2":-149.8,"y":56.7,"y2":56.2,"v":1},{"x":-163.7,"x2":-149.8,"y":56.2,"y2":55.7,"v":1},
{"x":-180.2,"x2":-178,"y":59.2,"y2":58.7,"v":1},{"x":-180.2,"x2":-176,"y":58.7,"y2":58.2,"v":1},{"x":-180.2,"x2":-174.7,"y":58.2,"y2":57.7,"v":1},{"x":-180.2,"x2":-172.2,"y":57.7,"y2":57.2,"v":1},{"x":-180.2,"x2":-170.7,"y":57.2,"y2":56.7,"v":1},{"x":-180.2,"x2":-169.2,"y":56.7,"y2":56.2,"v":1},{"x":-180.2,"x2":-167.7,"y":56.2,"y2":55.7,"v":1}],
"nov":[
{"x":-180.2,"x2":-149.8,"y":66.2,"y2":55.9,"v":1.3},{"x":-180.2,"x2":-149.8,"y":55.9,"y2":51.7,"v":1},
{"x":-180.2,"x2":-178.5,"y":66.2,"y2":65.7,"v":1.6},{"x":-178.5,"x2":-175.2,"y":66.2,"y2":65.7,"v":1.9},{"x":-175.2,"x2":-170,"y":66.2,"y2":65.7,"v":1.6},{"x":-168.5,"x2":-161.7,"y":66.2,"y2":65.7,"v":1.6},{"x":-161.7,"x2":-152.2,"y":66.2,"y2":65.7,"v":1.9},{"x":-152.2,"x2":-149.8,"y":66.2,"y2":65.7,"v":1.6},
{"x":-180.2,"x2":-170.7,"y":65.7,"y2":65.2,"v":1.6},{"x":-168.5,"x2":-161.7,"y":65.7,"y2":65.2,"v":1.6},{"x":-161.7,"x2":-151.7,"y":65.7,"y2":65.2,"v":1.9},{"x":-151.7,"x2":-149.8,"y":65.7,"y2":65.2,"v":1.6},
{"x":-180.2,"x2":-171,"y":65.2,"y2":64.7,"v":1.6},{"x":-167,"x2":-161.7,"y":65.2,"y2":64.7,"v":1.6},{"x":-161.7,"x2":-153.2,"y":65.2,"y2":64.7,"v":1.9},{"x":-153.2,"x2":-149.8,"y":65.2,"y2":64.7,"v":1.6},
{"x":-180.2,"x2":-173.5,"y":64.7,"y2":64.2,"v":1.6},{"x":-167,"x2":-160.7,"y":64.7,"y2":64.2,"v":1.6},{"x":-160.7,"x2":-154.5,"y":64.7,"y2":64.2,"v":1.9},{"x":-154.5,"x2":-149.8,"y":64.7,"y2":64.2,"v":1.6},
{"x":-180.2,"x2":-178.7,"y":64.2,"y2":63.7,"v":1.6},{"x":-165,"x2":-158.7,"y":64.2,"y2":63.7,"v":1.6},{"x":-158.7,"x2":-156.7,"y":64.2,"y2":63.7,"v":1.9},{"x":-156.7,"x2":-149.8,"y":64.2,"y2":63.7,"v":1.6},
{"x":-180.2,"x2":-179,"y":63.7,"y2":63.2,"v":1.6},{"x":-164.5,"x2":-150,"y":63.7,"y2":63.2,"v":1.6},{"x":-164.7,"x2":-150.2,"y":63.2,"y2":62.7,"v":1.6},{"x":-164,"x2":-149.8,"y":62.7,"y2":62.2,"v":1.6},{"x":-162.5,"x2":-150,"y":62.2,"y2":61.7,"v":1.6},{"x":-161.5,"x2":-150,"y":61.7,"y2":61.2,"v":1.6},{"x":-159.2,"x2":-153.2,"y":61.2,"y2":60.7,"v":1.6},{"x":-158.7,"x2":-153.2,"y":60.7,"y2":60.2,"v":1.6},
{"x":-180.2,"x2":-178.5,"y":59.2,"y2":58.7,"v":1},{"x":-180.2,"x2":-172.7,"y":58.7,"y2":58.2,"v":1},{"x":-150.4,"x2":-149.8,"y":58.7,"y2":58.2,"v":1},{"x":-180.2,"x2":-170,"y":58.2,"y2":57.7,"v":1},{"x":-153.5,"x2":-149.8,"y":58.2,"y2":57.7,"v":1},{"x":-180.2,"x2":-168.7,"y":57.7,"y2":57.2,"v":1},{"x":-154.5,"x2":-149.8,"y":57.7,"y2":57.2,"v":1},{"x":-180.2,"x2":-167.5,"y":57.2,"y2":56.7,"v":1},{"x":-155.5,"x2":-149.8,"y":57.2,"y2":56.7,"v":1},{"x":-180.2,"x2":-165.5,"y":56.7,"y2":56.2,"v":1},{"x":-156.4,"x2":-149.8,"y":56.7,"y2":56.2,"v":1},{"x":-180.2,"x2":-165,"y":56.2,"y2":55.9,"v":1},{"x":-158,"x2":-149.8,"y":56.2,"y2":55.9,"v":1}],
"dec":[
{"x":-180.2,"x2":-178.5,"y":66.2,"y2":65.7,"v":2.5},{"x":-178.5,"x2":-174.3,"y":66.2,"y2":65.7,"v":2.8},{"x":-174.3,"x2":-169.7,"y":66.2,"y2":65.7,"v":2.5},{"x":-169.7,"x2":-163.7,"y":66.2,"y2":65.7,"v":2.2},{"x":-163.7,"x2":-149.8,"y":66.2,"y2":65.7,"v":2.5},
{"x":-180.2,"x2":-171,"y":65.7,"y2":65.2,"v":2.5},{"x":-171,"x2":-164,"y":65.7,"y2":65.2,"v":2.2},{"x":-164,"x2":-149.8,"y":65.7,"y2":65.2,"v":2.5},
{"x":-180.2,"x2":-172.7,"y":65.2,"y2":64.7,"v":2.5},{"x":-172.7,"x2":-160.7,"y":65.2,"y2":64.7,"v":2.2},{"x":-160.7,"x2":-149.8,"y":65.2,"y2":64.7,"v":2.5},
{"x":-180.2,"x2":-176.7,"y":64.7,"y2":64.2,"v":2.5},{"x":-176.7,"x2":-160.7,"y":64.7,"y2":64.2,"v":2.2},{"x":-160.7,"x2":-149.8,"y":64.7,"y2":64.2,"v":2.5},
{"x":-180.2,"x2":-178.5,"y":64.2,"y2":63.7,"v":2.2},{"x":-178.5,"x2":-170,"y":64.2,"y2":63.7,"v":1.9},{"x":-170,"x2":-160.7,"y":64.2,"y2":63.7,"v":2.2},{"x":-160.7,"x2":-154.2,"y":64.2,"y2":63.7,"v":2.5},{"x":-154.2,"x2":-149.8,"y":64.2,"y2":63.7,"v":2.2},
{"x":-180.2,"x2":-167.5,"y":63.7,"y2":63.2,"v":1.9},{"x":-167.5,"x2":-160.7,"y":63.7,"y2":63.2,"v":2.2},{"x":-160.7,"x2":-155.7,"y":63.7,"y2":63.2,"v":2.5},{"x":-155.7,"x2":-149.8,"y":63.7,"y2":63.2,"v":2.2},
{"x":-180.2,"x2":-165.2,"y":63.2,"y2":62.7,"v":1.9},{"x":-165.2,"x2":-159.2,"y":63.2,"y2":62.7,"v":2.2},{"x":-159.2,"x2":-157.2,"y":63.2,"y2":62.7,"v":2.5},{"x":-157.2,"x2":-150.5,"y":63.2,"y2":62.7,"v":2.2},{"x":-150.5,"x2":-149.8,"y":63.2,"y2":62.7,"v":1.9},
{"x":-180.2,"x2":-178.7,"y":62.7,"y2":62.2,"v":1.9},{"x":-178.7,"x2":-173.7,"y":62.7,"y2":62.2,"v":1.6},{"x":-173.7,"x2":-165,"y":62.7,"y2":62.2,"v":1.9},{"x":-165,"x2":-152.2,"y":62.7,"y2":62.2,"v":2.2},{"x":-152.2,"x2":-149.8,"y":62.7,"y2":62.2,"v":1.9},
{"x":-180.2,"x2":-172.5,"y":62.2,"y2":61.7,"v":1.6},{"x":-172.5,"x2":-164,"y":62.2,"y2":61.7,"v":1.9},{"x":-164,"x2":-153.7,"y":62.2,"y2":61.7,"v":2.2},{"x":-153.7,"x2":-149.8,"y":62.2,"y2":61.7,"v":1.9},
{"x":-180.2,"x2":-169.7,"y":61.7,"y2":61.2,"v":1.6},{"x":-169.7,"x2":-161.7,"y":61.7,"y2":61.2,"v":1.9},{"x":-161.7,"x2":-155.2,"y":61.7,"y2":61.2,"v":2.2},{"x":-155.2,"x2":-149.8,"y":61.7,"y2":61.2,"v":1.9},
{"x":-180.2,"x2":-173.7,"y":61.2,"y2":60.7,"v":1.3},{"x":-173.7,"x2":-166.7,"y":61.2,"y2":60.7,"v":1.6},{"x":-166.7,"x2":-160.7,"y":61.2,"y2":60.7,"v":1.9},{"x":-160.7,"x2":-157.2,"y":61.2,"y2":60.7,"v":2.2},{"x":-157.2,"x2":-149.8,"y":61.2,"y2":60.7,"v":1.9},
{"x":-180.2,"x2":-172.5,"y":60.7,"y2":60.2,"v":1.3},{"x":-172.5,"x2":-165.2,"y":60.7,"y2":60.2,"v":1.6},{"x":-165.2,"x2":-150.2,"y":60.7,"y2":60.2,"v":1.9},{"x":-150.2,"x2":-149.8,"y":60.7,"y2":60.2,"v":1.6},
{"x":-180.2,"x2":-170.7,"y":60.2,"y2":59.7,"v":1.3},{"x":-170.7,"x2":-164.7,"y":60.2,"y2":59.7,"v":1.6},{"x":-164.7,"x2":-150.2,"y":60.2,"y2":59.7,"v":1.9},{"x":-150.2,"x2":-149.8,"y":60.2,"y2":59.7,"v":1.6},
{"x":-180.2,"x2":-169.7,"y":59.7,"y2":59.2,"v":1.3},{"x":-169.7,"x2":-163.7,"y":59.7,"y2":59.2,"v":1.6},{"x":-163.7,"x2":-152,"y":59.7,"y2":59.2,"v":1.9},{"x":-152,"x2":-149.8,"y":59.7,"y2":59.2,"v":1.6},
{"x":-180.2,"x2":-168.7,"y":59.2,"y2":58.7,"v":1.3},{"x":-168.7,"x2":-161.7,"y":59.2,"y2":58.7,"v":1.6},{"x":-161.7,"x2":-153.7,"y":59.2,"y2":58.7,"v":1.9},{"x":-153.7,"x2":-152.7,"y":59.2,"y2":58.7,"v":1.6},{"x":-152.7,"x2":-149.8,"y":59.2,"y2":58.7,"v":1.3},
{"x":-180.2,"x2":-176.5,"y":58.7,"y2":58.2,"v":1},{"x":-176.5,"x2":-164.7,"y":58.7,"y2":58.2,"v":1.3},{"x":-164.7,"x2":-158.2,"y":58.7,"y2":58.2,"v":1.6},{"x":-158.2,"x2":-149.8,"y":58.7,"y2":58.2,"v":1.3},
{"x":-180.2,"x2":-172.7,"y":58.2,"y2":57.7,"v":1},{"x":-172.7,"x2":-162.7,"y":58.2,"y2":57.7,"v":1.3},{"x":-162.7,"x2":-159.2,"y":58.2,"y2":57.7,"v":1.6},{"x":-159.2,"x2":-149.8,"y":58.2,"y2":57.7,"v":1.3},
{"x":-180.2,"x2":-170,"y":57.7,"y2":57.2,"v":1},{"x":-170,"x2":-159.7,"y":57.7,"y2":57.2,"v":1.3},{"x":-159.7,"x2":-157.7,"y":57.7,"y2":57.2,"v":1.6},{"x":-157.7,"x2":-149.8,"y":57.7,"y2":57.2,"v":1.3},
{"x":-180.2,"x2":-167.7,"y":57.2,"y2":56.7,"v":1},{"x":-167.7,"x2":-150.2,"y":57.2,"y2":56.7,"v":1.3},{"x":-150.2,"x2":-149.8,"y":57.2,"y2":56.7,"v":1},
{"x":-180.2,"x2":-167,"y":56.7,"y2":55.7,"v":1},{"x":-167,"x2":-150.9,"y":56.7,"y2":55.7,"v":1.3},{"x":-150.9,"x2":-149.8,"y":56.7,"y2":55.7,"v":1},
{"x":-180.2,"x2":-149.8,"y":55.7,"y2":52.7,"v":1},
{"x":-180.2,"x2":-179.7,"y":52.7,"y2":52.2,"v":0.7},{"x":-179.7,"x2":-149.8,"y":52.7,"y2":52.2,"v":1},
{"x":-180.2,"x2":-178.2,"y":52.2,"y2":51.7,"v":0.7},{"x":-178.2,"x2":-149.8,"y":52.2,"y2":51.7,"v":1}]
},
"vconcat":[
{"columns":3,"bounds":"flush","spacing":{"row":38.5,"column":38},"concat":[
{"width":311,"height":279,"resolve":{"axis":{"x":"independent","y":"independent"}},"layer":[{"data":{"name":"jan"},"mark":{"type":"rect","clip":true,"strokeWidth":0.7},"encoding":{"x":{"field":"x","type":"quantitative","title":null,"scale":{"domain":[-180.17,-149.86],"nice":false},"axis":{"orient":"bottom","labels":false,"zindex":1}},"x2":{"field":"x2"},"y":{"field":"y","type":"quantitative","title":null,"scale":{"domain":[51.76,66.22],"nice":false},"axis":{"orient":"left","zindex":1}},"y2":{"field":"y2"},"color":{"field":"v","type":"quantitative","legend":null,"scale":{"type":"threshold","domain":[-3,-2.7,-2.4,-2.1,-1.8,-1.5,-1.2,-0.9,-0.6,-0.3,0,0.3,0.6,0.9,1.2,1.5,1.8,2.1,2.4,2.7,3],"range":"category"}},"stroke":{"field":"v","type":"quantitative","legend":null,"scale":{"type":"threshold","domain":[-3,-2.7,-2.4,-2.1,-1.8,-1.5,-1.2,-0.9,-0.6,-0.3,0,0.3,0.6,0.9,1.2,1.5,1.8,2.1,2.4,2.7,3],"range":"category"}}}},{"data":{"name":"coast"},"mark":{"type":"line","clip":true,"color":"#000","strokeWidth":3},"encoding":{"x":{"field":"x","type":"quantitative","axis":null,"scale":{"domain":[-180.17,-149.86],"nice":false}},"y":{"field":"y","type":"quantitative","axis":null,"scale":{"domain":[51.76,66.22],"nice":false}},"detail":{"field":"s"},"order":{"field":"o"}}},{"data":{"name":"box"},"mark":{"type":"rect","color":"#fff"},"encoding":{"x":{"field":"x","type":"quantitative","axis":null,"scale":{"domain":[-180.17,-149.86],"nice":false}},"x2":{"field":"x2"},"y":{"field":"y","type":"quantitative","axis":null,"scale":{"domain":[51.76,66.22],"nice":false}},"y2":{"field":"y2"}}},{"data":{"values":[{"x":-165.06,"y":53.25,"t":"Tair_frc jan"}]},"mark":{"type":"text","font":"DejaVu Sans","fontWeight":"bold","fontSize":24,"color":"#111"},"encoding":{"x":{"field":"x","type":"quantitative","title":null,"scale":{"domain":[-180.17,-149.86],"nice":false},"axis":{"orient":"top","labels":false,"zindex":1}},"y":{"field":"y","type":"quantitative","title":null,"scale":{"domain":[51.76,66.22],"nice":false},"axis":{"orient":"right","labels":false,"zindex":1}},"text":{"field":"t"}}}]},
{"width":311,"height":279,"resolve":{"axis":{"x":"independent","y":"independent"}},"layer":[{"data":{"name":"feb"},"mark":{"type":"rect","clip":true,"strokeWidth":0.7},"encoding":{"x":{"field":"x","type":"quantitative","title":null,"scale":{"domain":[-180.17,-149.86],"nice":false},"axis":{"orient":"bottom","labels":false,"zindex":1}},"x2":{"field":"x2"},"y":{"field":"y","type":"quantitative","title":null,"scale":{"domain":[51.76,66.22],"nice":false},"axis":{"orient":"left","labels":false,"zindex":1}},"y2":{"field":"y2"},"color":{"field":"v","type":"quantitative","legend":null,"scale":{"type":"threshold","domain":[-3,-2.7,-2.4,-2.1,-1.8,-1.5,-1.2,-0.9,-0.6,-0.3,0,0.3,0.6,0.9,1.2,1.5,1.8,2.1,2.4,2.7,3],"range":"category"}},"stroke":{"field":"v","type":"quantitative","legend":null,"scale":{"type":"threshold","domain":[-3,-2.7,-2.4,-2.1,-1.8,-1.5,-1.2,-0.9,-0.6,-0.3,0,0.3,0.6,0.9,1.2,1.5,1.8,2.1,2.4,2.7,3],"range":"category"}}}},{"data":{"name":"coast"},"mark":{"type":"line","clip":true,"color":"#000","strokeWidth":3},"encoding":{"x":{"field":"x","type":"quantitative","axis":null,"scale":{"domain":[-180.17,-149.86],"nice":false}},"y":{"field":"y","type":"quantitative","axis":null,"scale":{"domain":[51.76,66.22],"nice":false}},"detail":{"field":"s"},"order":{"field":"o"}}},{"data":{"name":"box"},"mark":{"type":"rect","color":"#fff"},"encoding":{"x":{"field":"x","type":"quantitative","axis":null,"scale":{"domain":[-180.17,-149.86],"nice":false}},"x2":{"field":"x2"},"y":{"field":"y","type":"quantitative","axis":null,"scale":{"domain":[51.76,66.22],"nice":false}},"y2":{"field":"y2"}}},{"data":{"values":[{"x":-165.06,"y":53.25,"t":"Tair_frc feb"}]},"mark":{"type":"text","font":"DejaVu Sans","fontWeight":"bold","fontSize":24,"color":"#111"},"encoding":{"x":{"field":"x","type":"quantitative","title":null,"scale":{"domain":[-180.17,-149.86],"nice":false},"axis":{"orient":"top","labels":false,"zindex":1}},"y":{"field":"y","type":"quantitative","title":null,"scale":{"domain":[51.76,66.22],"nice":false},"axis":{"orient":"right","labels":false,"zindex":1}},"text":{"field":"t"}}}]},
{"width":311,"height":279,"resolve":{"axis":{"x":"independent","y":"independent"}},"layer":[{"data":{"name":"mar"},"mark":{"type":"rect","clip":true,"strokeWidth":0.7},"encoding":{"x":{"field":"x","type":"quantitative","title":null,"scale":{"domain":[-180.17,-149.86],"nice":false},"axis":{"orient":"bottom","labels":false,"zindex":1}},"x2":{"field":"x2"},"y":{"field":"y","type":"quantitative","title":null,"scale":{"domain":[51.76,66.22],"nice":false},"axis":{"orient":"left","labels":false,"zindex":1}},"y2":{"field":"y2"},"color":{"field":"v","type":"quantitative","legend":null,"scale":{"type":"threshold","domain":[-3,-2.7,-2.4,-2.1,-1.8,-1.5,-1.2,-0.9,-0.6,-0.3,0,0.3,0.6,0.9,1.2,1.5,1.8,2.1,2.4,2.7,3],"range":"category"}},"stroke":{"field":"v","type":"quantitative","legend":null,"scale":{"type":"threshold","domain":[-3,-2.7,-2.4,-2.1,-1.8,-1.5,-1.2,-0.9,-0.6,-0.3,0,0.3,0.6,0.9,1.2,1.5,1.8,2.1,2.4,2.7,3],"range":"category"}}}},{"data":{"name":"coast"},"mark":{"type":"line","clip":true,"color":"#000","strokeWidth":3},"encoding":{"x":{"field":"x","type":"quantitative","axis":null,"scale":{"domain":[-180.17,-149.86],"nice":false}},"y":{"field":"y","type":"quantitative","axis":null,"scale":{"domain":[51.76,66.22],"nice":false}},"detail":{"field":"s"},"order":{"field":"o"}}},{"data":{"name":"box"},"mark":{"type":"rect","color":"#fff"},"encoding":{"x":{"field":"x","type":"quantitative","axis":null,"scale":{"domain":[-180.17,-149.86],"nice":false}},"x2":{"field":"x2"},"y":{"field":"y","type":"quantitative","axis":null,"scale":{"domain":[51.76,66.22],"nice":false}},"y2":{"field":"y2"}}},{"data":{"values":[{"x":-165.06,"y":53.25,"t":"Tair_frc mar"}]},"mark":{"type":"text","font":"DejaVu Sans","fontWeight":"bold","fontSize":24,"color":"#111"},"encoding":{"x":{"field":"x","type":"quantitative","title":null,"scale":{"domain":[-180.17,-149.86],"nice":false},"axis":{"orient":"top","labels":false,"zindex":1}},"y":{"field":"y","type":"quantitative","title":null,"scale":{"domain":[51.76,66.22],"nice":false},"axis":{"orient":"right","zindex":1}},"text":{"field":"t"}}}]},
{"width":311,"height":279,"resolve":{"axis":{"x":"independent","y":"independent"}},"layer":[{"data":{"name":"apr"},"mark":{"type":"rect","clip":true,"strokeWidth":0.7},"encoding":{"x":{"field":"x","type":"quantitative","title":null,"scale":{"domain":[-180.17,-149.86],"nice":false},"axis":{"orient":"bottom","labels":false,"zindex":1}},"x2":{"field":"x2"},"y":{"field":"y","type":"quantitative","title":null,"scale":{"domain":[51.76,66.22],"nice":false},"axis":{"orient":"left","zindex":1}},"y2":{"field":"y2"},"color":{"field":"v","type":"quantitative","legend":null,"scale":{"type":"threshold","domain":[-3,-2.7,-2.4,-2.1,-1.8,-1.5,-1.2,-0.9,-0.6,-0.3,0,0.3,0.6,0.9,1.2,1.5,1.8,2.1,2.4,2.7,3],"range":"category"}},"stroke":{"field":"v","type":"quantitative","legend":null,"scale":{"type":"threshold","domain":[-3,-2.7,-2.4,-2.1,-1.8,-1.5,-1.2,-0.9,-0.6,-0.3,0,0.3,0.6,0.9,1.2,1.5,1.8,2.1,2.4,2.7,3],"range":"category"}}}},{"data":{"name":"coast"},"mark":{"type":"line","clip":true,"color":"#000","strokeWidth":3},"encoding":{"x":{"field":"x","type":"quantitative","axis":null,"scale":{"domain":[-180.17,-149.86],"nice":false}},"y":{"field":"y","type":"quantitative","axis":null,"scale":{"domain":[51.76,66.22],"nice":false}},"detail":{"field":"s"},"order":{"field":"o"}}},{"data":{"name":"box"},"mark":{"type":"rect","color":"#fff"},"encoding":{"x":{"field":"x","type":"quantitative","axis":null,"scale":{"domain":[-180.17,-149.86],"nice":false}},"x2":{"field":"x2"},"y":{"field":"y","type":"quantitative","axis":null,"scale":{"domain":[51.76,66.22],"nice":false}},"y2":{"field":"y2"}}},{"data":{"values":[{"x":-165.06,"y":53.25,"t":"Tair_frc apr"}]},"mark":{"type":"text","font":"DejaVu Sans","fontWeight":"bold","fontSize":24,"color":"#111"},"encoding":{"x":{"field":"x","type":"quantitative","title":null,"scale":{"domain":[-180.17,-149.86],"nice":false},"axis":{"orient":"top","labels":false,"zindex":1}},"y":{"field":"y","type":"quantitative","title":null,"scale":{"domain":[51.76,66.22],"nice":false},"axis":{"orient":"right","labels":false,"zindex":1}},"text":{"field":"t"}}}]},
{"width":311,"height":279,"resolve":{"axis":{"x":"independent","y":"independent"}},"layer":[{"data":{"name":"may"},"mark":{"type":"rect","clip":true,"strokeWidth":0.7},"encoding":{"x":{"field":"x","type":"quantitative","title":null,"scale":{"domain":[-180.17,-149.86],"nice":false},"axis":{"orient":"bottom","labels":false,"zindex":1}},"x2":{"field":"x2"},"y":{"field":"y","type":"quantitative","title":null,"scale":{"domain":[51.76,66.22],"nice":false},"axis":{"orient":"left","labels":false,"zindex":1}},"y2":{"field":"y2"},"color":{"field":"v","type":"quantitative","legend":null,"scale":{"type":"threshold","domain":[-3,-2.7,-2.4,-2.1,-1.8,-1.5,-1.2,-0.9,-0.6,-0.3,0,0.3,0.6,0.9,1.2,1.5,1.8,2.1,2.4,2.7,3],"range":"category"}},"stroke":{"field":"v","type":"quantitative","legend":null,"scale":{"type":"threshold","domain":[-3,-2.7,-2.4,-2.1,-1.8,-1.5,-1.2,-0.9,-0.6,-0.3,0,0.3,0.6,0.9,1.2,1.5,1.8,2.1,2.4,2.7,3],"range":"category"}}}},{"data":{"name":"coast"},"mark":{"type":"line","clip":true,"color":"#000","strokeWidth":3},"encoding":{"x":{"field":"x","type":"quantitative","axis":null,"scale":{"domain":[-180.17,-149.86],"nice":false}},"y":{"field":"y","type":"quantitative","axis":null,"scale":{"domain":[51.76,66.22],"nice":false}},"detail":{"field":"s"},"order":{"field":"o"}}},{"data":{"name":"box"},"mark":{"type":"rect","color":"#fff"},"encoding":{"x":{"field":"x","type":"quantitative","axis":null,"scale":{"domain":[-180.17,-149.86],"nice":false}},"x2":{"field":"x2"},"y":{"field":"y","type":"quantitative","axis":null,"scale":{"domain":[51.76,66.22],"nice":false}},"y2":{"field":"y2"}}},{"data":{"values":[{"x":-165.06,"y":53.25,"t":"Tair_frc may"}]},"mark":{"type":"text","font":"DejaVu Sans","fontWeight":"bold","fontSize":24,"color":"#111"},"encoding":{"x":{"field":"x","type":"quantitative","title":null,"scale":{"domain":[-180.17,-149.86],"nice":false},"axis":{"orient":"top","labels":false,"zindex":1}},"y":{"field":"y","type":"quantitative","title":null,"scale":{"domain":[51.76,66.22],"nice":false},"axis":{"orient":"right","labels":false,"zindex":1}},"text":{"field":"t"}}}]},
{"width":311,"height":279,"resolve":{"axis":{"x":"independent","y":"independent"}},"layer":[{"data":{"name":"jun"},"mark":{"type":"rect","clip":true,"strokeWidth":0.7},"encoding":{"x":{"field":"x","type":"quantitative","title":null,"scale":{"domain":[-180.17,-149.86],"nice":false},"axis":{"orient":"bottom","labels":false,"zindex":1}},"x2":{"field":"x2"},"y":{"field":"y","type":"quantitative","title":null,"scale":{"domain":[51.76,66.22],"nice":false},"axis":{"orient":"left","labels":false,"zindex":1}},"y2":{"field":"y2"},"color":{"field":"v","type":"quantitative","legend":null,"scale":{"type":"threshold","domain":[-3,-2.7,-2.4,-2.1,-1.8,-1.5,-1.2,-0.9,-0.6,-0.3,0,0.3,0.6,0.9,1.2,1.5,1.8,2.1,2.4,2.7,3],"range":"category"}},"stroke":{"field":"v","type":"quantitative","legend":null,"scale":{"type":"threshold","domain":[-3,-2.7,-2.4,-2.1,-1.8,-1.5,-1.2,-0.9,-0.6,-0.3,0,0.3,0.6,0.9,1.2,1.5,1.8,2.1,2.4,2.7,3],"range":"category"}}}},{"data":{"name":"coast"},"mark":{"type":"line","clip":true,"color":"#000","strokeWidth":3},"encoding":{"x":{"field":"x","type":"quantitative","axis":null,"scale":{"domain":[-180.17,-149.86],"nice":false}},"y":{"field":"y","type":"quantitative","axis":null,"scale":{"domain":[51.76,66.22],"nice":false}},"detail":{"field":"s"},"order":{"field":"o"}}},{"data":{"name":"box"},"mark":{"type":"rect","color":"#fff"},"encoding":{"x":{"field":"x","type":"quantitative","axis":null,"scale":{"domain":[-180.17,-149.86],"nice":false}},"x2":{"field":"x2"},"y":{"field":"y","type":"quantitative","axis":null,"scale":{"domain":[51.76,66.22],"nice":false}},"y2":{"field":"y2"}}},{"data":{"values":[{"x":-165.06,"y":53.25,"t":"Tair_frc jun"}]},"mark":{"type":"text","font":"DejaVu Sans","fontWeight":"bold","fontSize":24,"color":"#111"},"encoding":{"x":{"field":"x","type":"quantitative","title":null,"scale":{"domain":[-180.17,-149.86],"nice":false},"axis":{"orient":"top","labels":false,"zindex":1}},"y":{"field":"y","type":"quantitative","title":null,"scale":{"domain":[51.76,66.22],"nice":false},"axis":{"orient":"right","zindex":1}},"text":{"field":"t"}}}]},
{"width":311,"height":279,"resolve":{"axis":{"x":"independent","y":"independent"}},"layer":[{"data":{"name":"jul"},"mark":{"type":"rect","clip":true,"strokeWidth":0.7},"encoding":{"x":{"field":"x","type":"quantitative","title":null,"scale":{"domain":[-180.17,-149.86],"nice":false},"axis":{"orient":"bottom","labels":false,"zindex":1}},"x2":{"field":"x2"},"y":{"field":"y","type":"quantitative","title":null,"scale":{"domain":[51.76,66.22],"nice":false},"axis":{"orient":"left","zindex":1}},"y2":{"field":"y2"},"color":{"field":"v","type":"quantitative","legend":null,"scale":{"type":"threshold","domain":[-3,-2.7,-2.4,-2.1,-1.8,-1.5,-1.2,-0.9,-0.6,-0.3,0,0.3,0.6,0.9,1.2,1.5,1.8,2.1,2.4,2.7,3],"range":"category"}},"stroke":{"field":"v","type":"quantitative","legend":null,"scale":{"type":"threshold","domain":[-3,-2.7,-2.4,-2.1,-1.8,-1.5,-1.2,-0.9,-0.6,-0.3,0,0.3,0.6,0.9,1.2,1.5,1.8,2.1,2.4,2.7,3],"range":"category"}}}},{"data":{"name":"coast"},"mark":{"type":"line","clip":true,"color":"#000","strokeWidth":3},"encoding":{"x":{"field":"x","type":"quantitative","axis":null,"scale":{"domain":[-180.17,-149.86],"nice":false}},"y":{"field":"y","type":"quantitative","axis":null,"scale":{"domain":[51.76,66.22],"nice":false}},"detail":{"field":"s"},"order":{"field":"o"}}},{"data":{"name":"box"},"mark":{"type":"rect","color":"#fff"},"encoding":{"x":{"field":"x","type":"quantitative","axis":null,"scale":{"domain":[-180.17,-149.86],"nice":false}},"x2":{"field":"x2"},"y":{"field":"y","type":"quantitative","axis":null,"scale":{"domain":[51.76,66.22],"nice":false}},"y2":{"field":"y2"}}},{"data":{"values":[{"x":-165.06,"y":53.25,"t":"Tair_frc jul"}]},"mark":{"type":"text","font":"DejaVu Sans","fontWeight":"bold","fontSize":24,"color":"#111"},"encoding":{"x":{"field":"x","type":"quantitative","title":null,"scale":{"domain":[-180.17,-149.86],"nice":false},"axis":{"orient":"top","labels":false,"zindex":1}},"y":{"field":"y","type":"quantitative","title":null,"scale":{"domain":[51.76,66.22],"nice":false},"axis":{"orient":"right","labels":false,"zindex":1}},"text":{"field":"t"}}}]},
{"width":311,"height":279,"resolve":{"axis":{"x":"independent","y":"independent"}},"layer":[{"data":{"name":"aug"},"mark":{"type":"rect","clip":true,"strokeWidth":0.7},"encoding":{"x":{"field":"x","type":"quantitative","title":null,"scale":{"domain":[-180.17,-149.86],"nice":false},"axis":{"orient":"bottom","labels":false,"zindex":1}},"x2":{"field":"x2"},"y":{"field":"y","type":"quantitative","title":null,"scale":{"domain":[51.76,66.22],"nice":false},"axis":{"orient":"left","labels":false,"zindex":1}},"y2":{"field":"y2"},"color":{"field":"v","type":"quantitative","legend":null,"scale":{"type":"threshold","domain":[-3,-2.7,-2.4,-2.1,-1.8,-1.5,-1.2,-0.9,-0.6,-0.3,0,0.3,0.6,0.9,1.2,1.5,1.8,2.1,2.4,2.7,3],"range":"category"}},"stroke":{"field":"v","type":"quantitative","legend":null,"scale":{"type":"threshold","domain":[-3,-2.7,-2.4,-2.1,-1.8,-1.5,-1.2,-0.9,-0.6,-0.3,0,0.3,0.6,0.9,1.2,1.5,1.8,2.1,2.4,2.7,3],"range":"category"}}}},{"data":{"name":"coast"},"mark":{"type":"line","clip":true,"color":"#000","strokeWidth":3},"encoding":{"x":{"field":"x","type":"quantitative","axis":null,"scale":{"domain":[-180.17,-149.86],"nice":false}},"y":{"field":"y","type":"quantitative","axis":null,"scale":{"domain":[51.76,66.22],"nice":false}},"detail":{"field":"s"},"order":{"field":"o"}}},{"data":{"name":"box"},"mark":{"type":"rect","color":"#fff"},"encoding":{"x":{"field":"x","type":"quantitative","axis":null,"scale":{"domain":[-180.17,-149.86],"nice":false}},"x2":{"field":"x2"},"y":{"field":"y","type":"quantitative","axis":null,"scale":{"domain":[51.76,66.22],"nice":false}},"y2":{"field":"y2"}}},{"data":{"values":[{"x":-165.06,"y":53.25,"t":"Tair_frc aug"}]},"mark":{"type":"text","font":"DejaVu Sans","fontWeight":"bold","fontSize":24,"color":"#111"},"encoding":{"x":{"field":"x","type":"quantitative","title":null,"scale":{"domain":[-180.17,-149.86],"nice":false},"axis":{"orient":"top","labels":false,"zindex":1}},"y":{"field":"y","type":"quantitative","title":null,"scale":{"domain":[51.76,66.22],"nice":false},"axis":{"orient":"right","labels":false,"zindex":1}},"text":{"field":"t"}}}]},
{"width":311,"height":279,"resolve":{"axis":{"x":"independent","y":"independent"}},"layer":[{"data":{"name":"sep"},"mark":{"type":"rect","clip":true,"strokeWidth":0.7},"encoding":{"x":{"field":"x","type":"quantitative","title":null,"scale":{"domain":[-180.17,-149.86],"nice":false},"axis":{"orient":"bottom","labels":false,"zindex":1}},"x2":{"field":"x2"},"y":{"field":"y","type":"quantitative","title":null,"scale":{"domain":[51.76,66.22],"nice":false},"axis":{"orient":"left","labels":false,"zindex":1}},"y2":{"field":"y2"},"color":{"field":"v","type":"quantitative","legend":null,"scale":{"type":"threshold","domain":[-3,-2.7,-2.4,-2.1,-1.8,-1.5,-1.2,-0.9,-0.6,-0.3,0,0.3,0.6,0.9,1.2,1.5,1.8,2.1,2.4,2.7,3],"range":"category"}},"stroke":{"field":"v","type":"quantitative","legend":null,"scale":{"type":"threshold","domain":[-3,-2.7,-2.4,-2.1,-1.8,-1.5,-1.2,-0.9,-0.6,-0.3,0,0.3,0.6,0.9,1.2,1.5,1.8,2.1,2.4,2.7,3],"range":"category"}}}},{"data":{"name":"coast"},"mark":{"type":"line","clip":true,"color":"#000","strokeWidth":3},"encoding":{"x":{"field":"x","type":"quantitative","axis":null,"scale":{"domain":[-180.17,-149.86],"nice":false}},"y":{"field":"y","type":"quantitative","axis":null,"scale":{"domain":[51.76,66.22],"nice":false}},"detail":{"field":"s"},"order":{"field":"o"}}},{"data":{"name":"box"},"mark":{"type":"rect","color":"#fff"},"encoding":{"x":{"field":"x","type":"quantitative","axis":null,"scale":{"domain":[-180.17,-149.86],"nice":false}},"x2":{"field":"x2"},"y":{"field":"y","type":"quantitative","axis":null,"scale":{"domain":[51.76,66.22],"nice":false}},"y2":{"field":"y2"}}},{"data":{"values":[{"x":-165.06,"y":53.25,"t":"Tair_frc sep"}]},"mark":{"type":"text","font":"DejaVu Sans","fontWeight":"bold","fontSize":24,"color":"#111"},"encoding":{"x":{"field":"x","type":"quantitative","title":null,"scale":{"domain":[-180.17,-149.86],"nice":false},"axis":{"orient":"top","labels":false,"zindex":1}},"y":{"field":"y","type":"quantitative","title":null,"scale":{"domain":[51.76,66.22],"nice":false},"axis":{"orient":"right","zindex":1}},"text":{"field":"t"}}}]},
{"width":311,"height":279,"resolve":{"axis":{"x":"independent","y":"independent"}},"layer":[{"data":{"name":"oct"},"mark":{"type":"rect","clip":true,"strokeWidth":0.7},"encoding":{"x":{"field":"x","type":"quantitative","title":null,"scale":{"domain":[-180.17,-149.86],"nice":false},"axis":{"orient":"bottom","zindex":1}},"x2":{"field":"x2"},"y":{"field":"y","type":"quantitative","title":null,"scale":{"domain":[51.76,66.22],"nice":false},"axis":{"orient":"left","zindex":1}},"y2":{"field":"y2"},"color":{"field":"v","type":"quantitative","legend":null,"scale":{"type":"threshold","domain":[-3,-2.7,-2.4,-2.1,-1.8,-1.5,-1.2,-0.9,-0.6,-0.3,0,0.3,0.6,0.9,1.2,1.5,1.8,2.1,2.4,2.7,3],"range":"category"}},"stroke":{"field":"v","type":"quantitative","legend":null,"scale":{"type":"threshold","domain":[-3,-2.7,-2.4,-2.1,-1.8,-1.5,-1.2,-0.9,-0.6,-0.3,0,0.3,0.6,0.9,1.2,1.5,1.8,2.1,2.4,2.7,3],"range":"category"}}}},{"data":{"name":"coast"},"mark":{"type":"line","clip":true,"color":"#000","strokeWidth":3},"encoding":{"x":{"field":"x","type":"quantitative","axis":null,"scale":{"domain":[-180.17,-149.86],"nice":false}},"y":{"field":"y","type":"quantitative","axis":null,"scale":{"domain":[51.76,66.22],"nice":false}},"detail":{"field":"s"},"order":{"field":"o"}}},{"data":{"name":"box"},"mark":{"type":"rect","color":"#fff"},"encoding":{"x":{"field":"x","type":"quantitative","axis":null,"scale":{"domain":[-180.17,-149.86],"nice":false}},"x2":{"field":"x2"},"y":{"field":"y","type":"quantitative","axis":null,"scale":{"domain":[51.76,66.22],"nice":false}},"y2":{"field":"y2"}}},{"data":{"values":[{"x":-165.06,"y":53.25,"t":"Tair_frc oct"}]},"mark":{"type":"text","font":"DejaVu Sans","fontWeight":"bold","fontSize":24,"color":"#111"},"encoding":{"x":{"field":"x","type":"quantitative","title":null,"scale":{"domain":[-180.17,-149.86],"nice":false},"axis":{"orient":"top","labels":false,"zindex":1}},"y":{"field":"y","type":"quantitative","title":null,"scale":{"domain":[51.76,66.22],"nice":false},"axis":{"orient":"right","labels":false,"zindex":1}},"text":{"field":"t"}}}]},
{"width":311,"height":279,"resolve":{"axis":{"x":"independent","y":"independent"}},"layer":[{"data":{"name":"nov"},"mark":{"type":"rect","clip":true,"strokeWidth":0.7},"encoding":{"x":{"field":"x","type":"quantitative","title":null,"scale":{"domain":[-180.17,-149.86],"nice":false},"axis":{"orient":"bottom","zindex":1}},"x2":{"field":"x2"},"y":{"field":"y","type":"quantitative","title":null,"scale":{"domain":[51.76,66.22],"nice":false},"axis":{"orient":"left","labels":false,"zindex":1}},"y2":{"field":"y2"},"color":{"field":"v","type":"quantitative","legend":null,"scale":{"type":"threshold","domain":[-3,-2.7,-2.4,-2.1,-1.8,-1.5,-1.2,-0.9,-0.6,-0.3,0,0.3,0.6,0.9,1.2,1.5,1.8,2.1,2.4,2.7,3],"range":"category"}},"stroke":{"field":"v","type":"quantitative","legend":null,"scale":{"type":"threshold","domain":[-3,-2.7,-2.4,-2.1,-1.8,-1.5,-1.2,-0.9,-0.6,-0.3,0,0.3,0.6,0.9,1.2,1.5,1.8,2.1,2.4,2.7,3],"range":"category"}}}},{"data":{"name":"coast"},"mark":{"type":"line","clip":true,"color":"#000","strokeWidth":3},"encoding":{"x":{"field":"x","type":"quantitative","axis":null,"scale":{"domain":[-180.17,-149.86],"nice":false}},"y":{"field":"y","type":"quantitative","axis":null,"scale":{"domain":[51.76,66.22],"nice":false}},"detail":{"field":"s"},"order":{"field":"o"}}},{"data":{"name":"box"},"mark":{"type":"rect","color":"#fff"},"encoding":{"x":{"field":"x","type":"quantitative","axis":null,"scale":{"domain":[-180.17,-149.86],"nice":false}},"x2":{"field":"x2"},"y":{"field":"y","type":"quantitative","axis":null,"scale":{"domain":[51.76,66.22],"nice":false}},"y2":{"field":"y2"}}},{"data":{"values":[{"x":-165.06,"y":53.25,"t":"Tair_frc nov"}]},"mark":{"type":"text","font":"DejaVu Sans","fontWeight":"bold","fontSize":24,"color":"#111"},"encoding":{"x":{"field":"x","type":"quantitative","title":null,"scale":{"domain":[-180.17,-149.86],"nice":false},"axis":{"orient":"top","labels":false,"zindex":1}},"y":{"field":"y","type":"quantitative","title":null,"scale":{"domain":[51.76,66.22],"nice":false},"axis":{"orient":"right","labels":false,"zindex":1}},"text":{"field":"t"}}}]},
{"width":311,"height":279,"resolve":{"axis":{"x":"independent","y":"independent"}},"layer":[{"data":{"name":"dec"},"mark":{"type":"rect","clip":true,"strokeWidth":0.7},"encoding":{"x":{"field":"x","type":"quantitative","title":null,"scale":{"domain":[-180.17,-149.86],"nice":false},"axis":{"orient":"bottom","zindex":1}},"x2":{"field":"x2"},"y":{"field":"y","type":"quantitative","title":null,"scale":{"domain":[51.76,66.22],"nice":false},"axis":{"orient":"left","labels":false,"zindex":1}},"y2":{"field":"y2"},"color":{"field":"v","type":"quantitative","legend":null,"scale":{"type":"threshold","domain":[-3,-2.7,-2.4,-2.1,-1.8,-1.5,-1.2,-0.9,-0.6,-0.3,0,0.3,0.6,0.9,1.2,1.5,1.8,2.1,2.4,2.7,3],"range":"category"}},"stroke":{"field":"v","type":"quantitative","legend":null,"scale":{"type":"threshold","domain":[-3,-2.7,-2.4,-2.1,-1.8,-1.5,-1.2,-0.9,-0.6,-0.3,0,0.3,0.6,0.9,1.2,1.5,1.8,2.1,2.4,2.7,3],"range":"category"}}}},{"data":{"name":"coast"},"mark":{"type":"line","clip":true,"color":"#000","strokeWidth":3},"encoding":{"x":{"field":"x","type":"quantitative","axis":null,"scale":{"domain":[-180.17,-149.86],"nice":false}},"y":{"field":"y","type":"quantitative","axis":null,"scale":{"domain":[51.76,66.22],"nice":false}},"detail":{"field":"s"},"order":{"field":"o"}}},{"data":{"name":"box"},"mark":{"type":"rect","color":"#fff"},"encoding":{"x":{"field":"x","type":"quantitative","axis":null,"scale":{"domain":[-180.17,-149.86],"nice":false}},"x2":{"field":"x2"},"y":{"field":"y","type":"quantitative","axis":null,"scale":{"domain":[51.76,66.22],"nice":false}},"y2":{"field":"y2"}}},{"data":{"values":[{"x":-165.06,"y":53.25,"t":"Tair_frc dec"}]},"mark":{"type":"text","font":"DejaVu Sans","fontWeight":"bold","fontSize":24,"color":"#111"},"encoding":{"x":{"field":"x","type":"quantitative","title":null,"scale":{"domain":[-180.17,-149.86],"nice":false},"axis":{"orient":"top","labels":false,"zindex":1}},"y":{"field":"y","type":"quantitative","title":null,"scale":{"domain":[51.76,66.22],"nice":false},"axis":{"orient":"right","zindex":1}},"text":{"field":"t"}}}]}
]},
{"width":1009,"height":45,"layer":[{"data":{"name":"tri"},"mark":{"type":"area","stroke":"#000","strokeWidth":2,"orient":"vertical"},"encoding":{"x":{"field":"x","type":"quantitative","title":null,"scale":{"domain":[-5.719,6.106],"nice":false},"axis":{"values":[-3,-1.5,0,1.5,3],"domain":false,"ticks":false,"labelPadding":5,"labelExpr":"replace(format(datum.value,'.1f'),'−','-')"}},"y":{"field":"y","type":"quantitative","title":null,"scale":{"domain":[0,1],"nice":false},"axis":null},"y2":{"field":"y2"},"color":{"field":"v","type":"quantitative","legend":null,"scale":{"type":"threshold","domain":[-3,-2.7,-2.4,-2.1,-1.8,-1.5,-1.2,-0.9,-0.6,-0.3,0,0.3,0.6,0.9,1.2,1.5,1.8,2.1,2.4,2.7,3],"range":"category"}}}},{"data":{"name":"bar"},"mark":{"type":"rect","stroke":"#111","strokeWidth":2.5},"encoding":{"x":{"field":"x","type":"quantitative","title":null,"scale":{"domain":[-5.719,6.106],"nice":false}},"x2":{"field":"x2"},"y":{"field":"y","type":"quantitative","title":null,"axis":null,"scale":{"domain":[0,1],"nice":false}},"y2":{"field":"y2"},"color":{"field":"v","type":"quantitative","legend":null,"scale":{"type":"threshold","domain":[-3,-2.7,-2.4,-2.1,-1.8,-1.5,-1.2,-0.9,-0.6,-0.3,0,0.3,0.6,0.9,1.2,1.5,1.8,2.1,2.4,2.7,3],"range":"category"}}}}]}
]}
